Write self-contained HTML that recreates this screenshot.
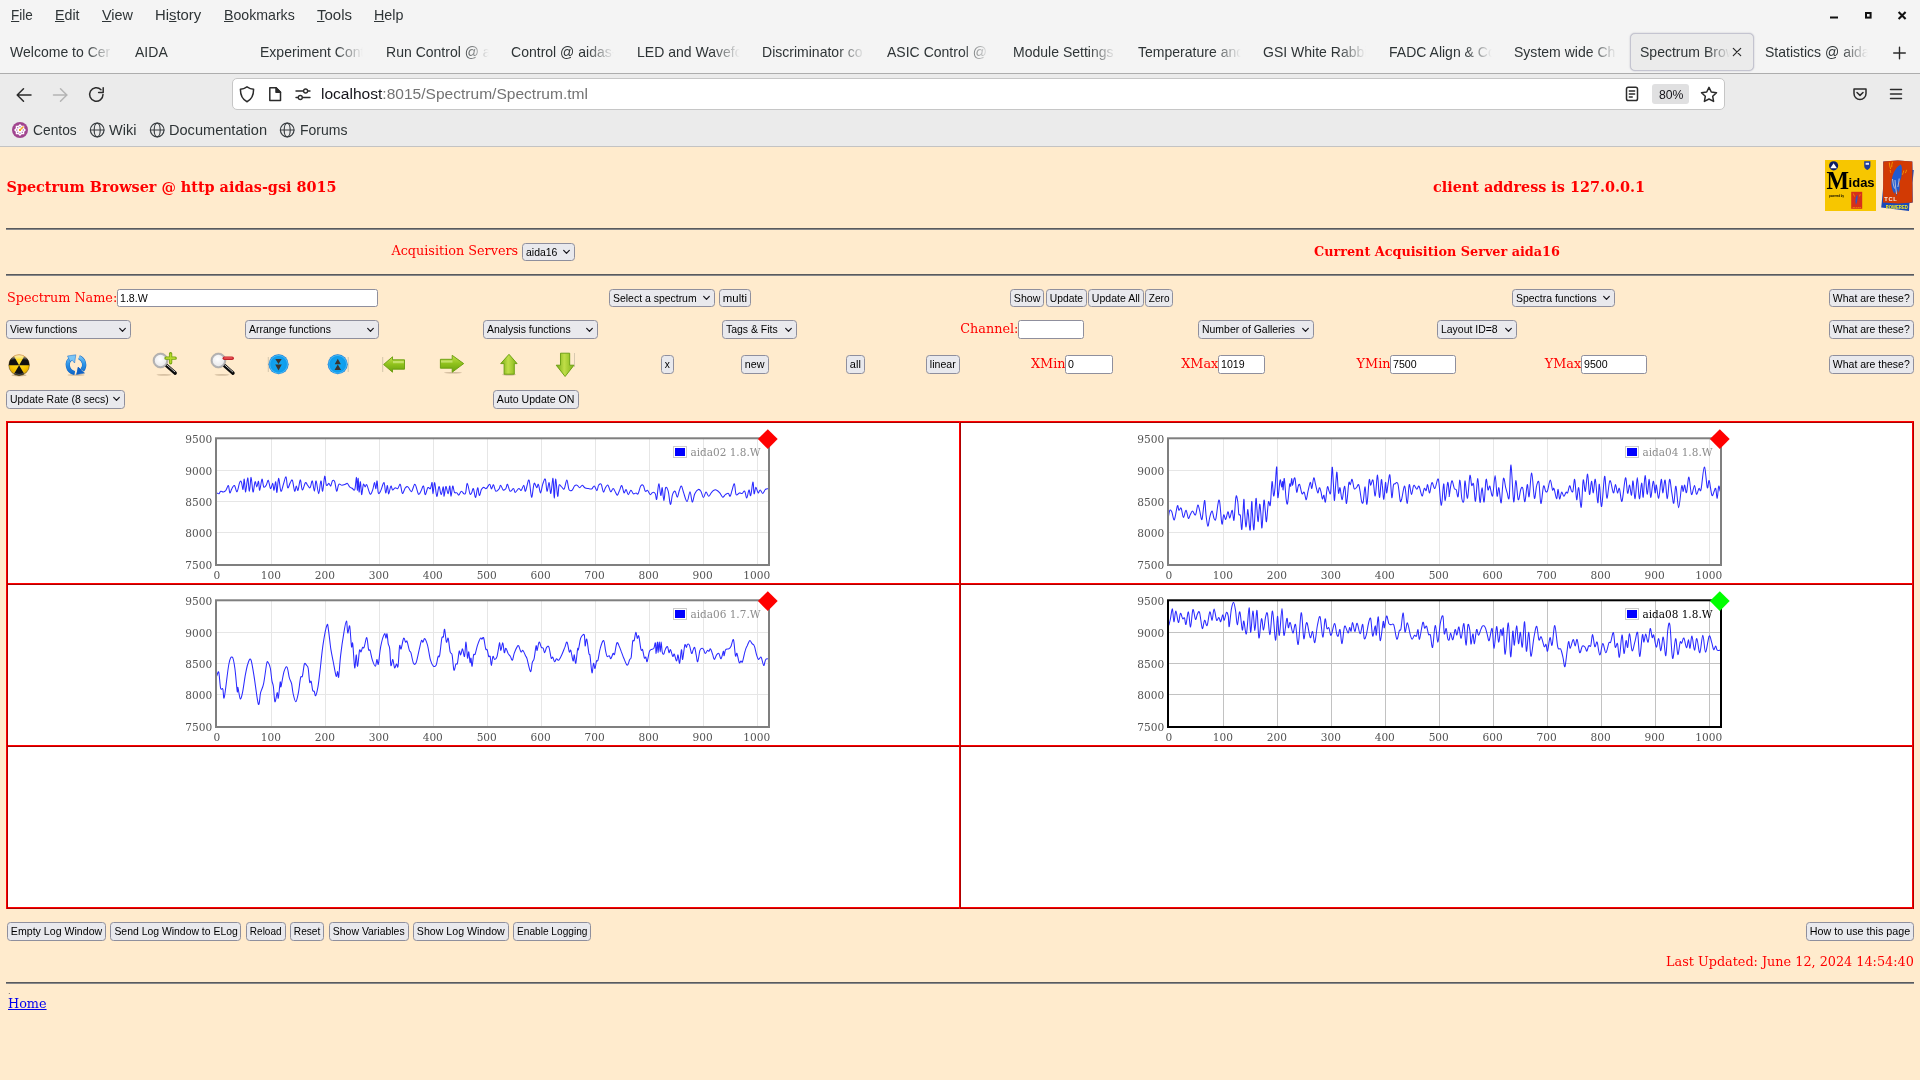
<!DOCTYPE html>
<html lang="en"><head><meta charset="utf-8"><title>Spectrum Browser</title>
<style>
*{box-sizing:border-box;margin:0;padding:0}
html,body{width:1920px;height:1080px;overflow:hidden;background:#ffebcd}
body{position:relative;font-family:"DejaVu Serif","Liberation Serif",serif;font-size:12.8px;color:#f00}
#w{position:absolute;left:0;top:0;width:1920px;height:1080px;will-change:transform}
.a{position:absolute;white-space:nowrap}
.ui{font-family:"Liberation Sans","DejaVu Sans",sans-serif}
.t{position:absolute;white-space:nowrap;display:block;transform-origin:0 50%;line-height:1}
/* chrome */
#top{left:0;top:0;width:1920px;height:73px;background:#f4f4f4}
#sep1{left:0;top:73px;width:1920px;height:1px;background:#adadad}
#nav{left:0;top:74px;width:1920px;height:72px;background:#ebebeb}
#sep2{left:0;top:146px;width:1920px;height:1px;background:#c3c3c3}
#url{left:232px;top:78px;width:1493px;height:32px;background:#fff;border:1px solid #c6c6c6;border-radius:5px}
#atab{left:1630px;top:33px;width:124px;height:38px;background:#ebebeb;border:1px solid #c4c4d0;border-radius:5px;box-shadow:0 0 1.5px rgba(90,90,120,.45)}
#zoomb{left:1652px;top:84px;width:37px;height:20px;background:#e0e0e1;border-radius:3px}
.menu{font-size:15px;color:#2e3436;top:7px;height:17px}
.tab{font-size:15px;color:#2e3436;top:44px;height:18px;overflow:hidden}
.bm{font-size:15px;color:#2e3436;top:122px;height:18px}
/* page controls */
.b,.s,.i{position:absolute;font-family:"Liberation Sans","DejaVu Sans",sans-serif;font-size:11px;color:#000;white-space:nowrap;border:1px solid #8f8f9d;border-radius:3.5px;line-height:1}
.b,.s{background:#e9e9ed}
.b{text-align:center}
.i{background:#fff;border-radius:2.5px}
.b span,.s span,.i span{position:absolute;left:0;right:0;top:50%;margin-top:-5.1px;display:block;transform:scaleX(.965)}
.s span{left:2.5px;right:auto;transform-origin:0 50%;transform:scaleX(.95)}
.i span{left:1.5px;right:auto;transform-origin:0 50%}
.s svg{position:absolute;right:4px;top:50%;margin-top:-3px}
.hr{position:absolute;left:6px;width:1908px;height:2px;background:linear-gradient(#595a5c 50%,#87888a 50%)}
.hd{font-weight:bold;font-size:14.4px}
.bd{font-weight:bold}
/* gallery */
#gal{left:8px;top:423px;width:1904px;height:484px;background:#fff}
.rl{position:absolute;background:#f00}
.rd{position:absolute;background:#ae0000}
.tk{position:absolute;font-size:10.6px;color:#545454;white-space:nowrap;line-height:1}
.lg{position:absolute;font-size:10.5px;white-space:nowrap;line-height:1}
.lb{position:absolute;width:14px;height:12px;border:1px solid #ccc;padding:1px;background:#fff}
.lb i{display:block;width:100%;height:100%;background:#00f}
.dm{position:absolute;width:13.6px;height:13.6px;transform:rotate(45deg)}
</style></head>
<body>
<div id="w">
<div class="a" id="top"></div><div class="a" id="sep1"></div><div class="a" id="nav"></div><div class="a" id="sep2"></div>
<span id="t1" class="t ui menu" style="left:11px;transform:scaleX(0.8992);"><u>F</u>ile</span>
<span id="t2" class="t ui menu" style="left:55px;transform:scaleX(0.9474);"><u>E</u>dit</span>
<span id="t3" class="t ui menu" style="left:101.75px;transform:scaleX(0.9612);"><u>V</u>iew</span>
<span id="t4" class="t ui menu" style="left:155.25px;transform:scaleX(0.9906);">Hi<u>s</u>tory</span>
<span id="t5" class="t ui menu" style="left:223.75px;transform:scaleX(0.9427);"><u>B</u>ookmarks</span>
<span id="t6" class="t ui menu" style="left:317px;transform:scaleX(0.9991);"><u>T</u>ools</span>
<span id="t7" class="t ui menu" style="left:374.25px;transform:scaleX(0.9555);"><u>H</u>elp</span>
<div class="a" id="atab"></div>
<span class="t ui tab" style="left:10px;width:105px;-webkit-mask-image:linear-gradient(90deg,#000 72%,transparent 98%);mask-image:linear-gradient(90deg,#000 72%,transparent 98%)"><span style="display:inline-block;transform:scaleX(.935);transform-origin:0 50%">Welcome to Cer</span></span>
<span class="t ui tab" style="left:135px;width:105px;-webkit-mask-image:linear-gradient(90deg,#000 72%,transparent 98%);mask-image:linear-gradient(90deg,#000 72%,transparent 98%)"><span style="display:inline-block;transform:scaleX(.935);transform-origin:0 50%">AIDA</span></span>
<span class="t ui tab" style="left:260px;width:105px;-webkit-mask-image:linear-gradient(90deg,#000 72%,transparent 98%);mask-image:linear-gradient(90deg,#000 72%,transparent 98%)"><span style="display:inline-block;transform:scaleX(.935);transform-origin:0 50%">Experiment Cont</span></span>
<span class="t ui tab" style="left:386px;width:105px;-webkit-mask-image:linear-gradient(90deg,#000 72%,transparent 98%);mask-image:linear-gradient(90deg,#000 72%,transparent 98%)"><span style="display:inline-block;transform:scaleX(.935);transform-origin:0 50%">Run Control @ a</span></span>
<span class="t ui tab" style="left:511px;width:105px;-webkit-mask-image:linear-gradient(90deg,#000 72%,transparent 98%);mask-image:linear-gradient(90deg,#000 72%,transparent 98%)"><span style="display:inline-block;transform:scaleX(.935);transform-origin:0 50%">Control @ aidas-</span></span>
<span class="t ui tab" style="left:637px;width:105px;-webkit-mask-image:linear-gradient(90deg,#000 72%,transparent 98%);mask-image:linear-gradient(90deg,#000 72%,transparent 98%)"><span style="display:inline-block;transform:scaleX(.935);transform-origin:0 50%">LED and Wavefo</span></span>
<span class="t ui tab" style="left:762px;width:105px;-webkit-mask-image:linear-gradient(90deg,#000 72%,transparent 98%);mask-image:linear-gradient(90deg,#000 72%,transparent 98%)"><span style="display:inline-block;transform:scaleX(.935);transform-origin:0 50%">Discriminator co</span></span>
<span class="t ui tab" style="left:887px;width:105px;-webkit-mask-image:linear-gradient(90deg,#000 72%,transparent 98%);mask-image:linear-gradient(90deg,#000 72%,transparent 98%)"><span style="display:inline-block;transform:scaleX(.935);transform-origin:0 50%">ASIC Control @</span></span>
<span class="t ui tab" style="left:1013px;width:105px;-webkit-mask-image:linear-gradient(90deg,#000 72%,transparent 98%);mask-image:linear-gradient(90deg,#000 72%,transparent 98%)"><span style="display:inline-block;transform:scaleX(.935);transform-origin:0 50%">Module Settings</span></span>
<span class="t ui tab" style="left:1138px;width:105px;-webkit-mask-image:linear-gradient(90deg,#000 72%,transparent 98%);mask-image:linear-gradient(90deg,#000 72%,transparent 98%)"><span style="display:inline-block;transform:scaleX(.935);transform-origin:0 50%">Temperature and</span></span>
<span class="t ui tab" style="left:1263px;width:105px;-webkit-mask-image:linear-gradient(90deg,#000 72%,transparent 98%);mask-image:linear-gradient(90deg,#000 72%,transparent 98%)"><span style="display:inline-block;transform:scaleX(.935);transform-origin:0 50%">GSI White Rabbi</span></span>
<span class="t ui tab" style="left:1389px;width:105px;-webkit-mask-image:linear-gradient(90deg,#000 72%,transparent 98%);mask-image:linear-gradient(90deg,#000 72%,transparent 98%)"><span style="display:inline-block;transform:scaleX(.935);transform-origin:0 50%">FADC Align &amp; Co</span></span>
<span class="t ui tab" style="left:1514px;width:105px;-webkit-mask-image:linear-gradient(90deg,#000 72%,transparent 98%);mask-image:linear-gradient(90deg,#000 72%,transparent 98%)"><span style="display:inline-block;transform:scaleX(.935);transform-origin:0 50%">System wide Ch</span></span>
<span class="t ui tab" style="left:1765px;width:105px;-webkit-mask-image:linear-gradient(90deg,#000 72%,transparent 98%);mask-image:linear-gradient(90deg,#000 72%,transparent 98%)"><span style="display:inline-block;transform:scaleX(.935);transform-origin:0 50%">Statistics @ aida</span></span>
<span class="t ui tab" style="left:1640px;width:92px;-webkit-mask-image:linear-gradient(90deg,#000 72%,transparent 98%);mask-image:linear-gradient(90deg,#000 72%,transparent 98%)"><span style="display:inline-block;transform:scaleX(.935);transform-origin:0 50%">Spectrum Brow</span></span>
<div class="a" id="url"></div><div class="a" id="zoomb"></div>
<span id="t8" class="t ui " style="left:321.25px;transform:scaleX(1.0029);font-size:15.5px;top:86px;height:18px;"><span style="color:#15141a">localhost</span><span style="color:#737373">:8015/Spectrum/Spectrum.tml</span></span>
<span id="t9" class="t ui " style="left:1658.5px;transform:scaleX(0.9412);font-size:13px;color:#15141a;top:88px;">80%</span>
<span id="t10" class="t ui bm" style="left:32.5px;transform:scaleX(0.9204);">Centos</span>
<span id="t11" class="t ui bm" style="left:109.25px;transform:scaleX(0.9708);">Wiki</span>
<span id="t12" class="t ui bm" style="left:169px;transform:scaleX(0.9712);">Documentation</span>
<span id="t13" class="t ui bm" style="left:299.5px;transform:scaleX(0.9342);">Forums</span>
<svg class="a" style="left:0;top:0" width="1920" height="147" viewBox="0 0 1920 147" fill="none" stroke-linecap="round" stroke-linejoin="round">
<g stroke="#2b2b2b" stroke-width="1.5">
<path d="M31 95H17.5M23.5 88.7L17.2 95l6.3 6.3"/>
<path d="M103 94.5a6.7 6.7 0 1 1-2-4.8M103.2 87.8v4.6h-4.6" />
<path d="M247 86.8c2.2 1.5 4.3 2.3 6.6 2.5 0 6.500-2.200 10.300-6.600 12.400-4.400-2.100-6.600-5.900-6.600-12.400 2.300-.2 4.400-1 6.600-2.500z"/>
<path d="M269.800 87.800h6.200l4.500 4.500v8.200h-10.700z"/><path d="M276 87.800v4.500h4.500z" fill="#2b2b2b"/>
<path d="M296 91h7.500M307.800 91h2.200M296 97.500h2.200M302.500 97.500h7.500" stroke-width="1.4"/><circle cx="305.600" cy="91" r="2" stroke-width="1.300"/><circle cx="300.300" cy="97.500" r="2" stroke-width="1.300"/>
<rect x="1626.500" y="87.300" width="11" height="13.200" rx="1.800"/><path d="M1629.300 91h5.400M1629.300 94h5.400M1629.300 97h3" stroke-width="1.300"/>
<path d="M1709 87.300l2.300 4.700 5.200.7-3.800 3.600.9 5.100-4.600-2.400-4.600 2.400.9-5.100-3.800-3.600 5.200-.7z"/>
<path d="M1854 89h12v4.500a6 6 0 0 1-12 0z"/><path d="M1857 92.500l3 2.900 3-2.900"/>
<path d="M1890.500 89.500h11M1890.500 94h11M1890.500 98.500h11"/>
<path d="M1733.300 48.300l7.400 7.400M1740.700 48.300l-7.400 7.400" stroke-width="1.200"/>
<path d="M1899.500 47.200v11.600M1893.700 53h11.600" stroke-width="1.400"/>
</g>
<path d="M67 95H53.500M60.500 88.700L66.800 95l-6.300 6.300" stroke="#b4b4b4" stroke-width="1.500"/>
<g stroke="#111" stroke-width="2" stroke-linecap="butt" stroke-linejoin="miter">
<path d="M1830 17.500h8"/><rect x="1866" y="13" width="4.600" height="4.600"/><path d="M1898.600 11.900l7 7M1905.600 11.900l-7 7" stroke-width="2.100"/>
</g>
<g stroke="#3a3f42" stroke-width="1.200">
<circle cx="97.200" cy="130" r="6.800"/><ellipse cx="97.200" cy="130" rx="3" ry="6.800"/><path d="M90.400 130h13.600"/>
<circle cx="157.200" cy="130" r="6.800"/><ellipse cx="157.200" cy="130" rx="3" ry="6.800"/><path d="M150.400 130h13.600"/>
<circle cx="287.200" cy="130" r="6.800"/><ellipse cx="287.200" cy="130" rx="3" ry="6.800"/><path d="M280.400 130h13.600"/>
</g>
<circle cx="20" cy="130" r="8" fill="#a1458f" stroke="none"/>
<path d="M20.00 124.00L21.76 125.75L24.24 125.76L24.25 128.24L26.00 130.00L24.25 131.76L24.24 134.24L21.76 134.25L20.00 136.00L18.24 134.25L15.76 134.24L15.75 131.76L14.00 130.00L15.75 128.24L15.76 125.76L18.24 125.75z" fill="#fff" stroke="none"/>
<rect x="19.35" y="126.05" width="1.300" height="1.300" fill="#b274b4" stroke="none"/><rect x="21.68" y="127.02" width="1.300" height="1.300" fill="#b274b4" stroke="none"/><rect x="22.65" y="129.35" width="1.300" height="1.300" fill="#b274b4" stroke="none"/><rect x="21.68" y="131.68" width="1.300" height="1.300" fill="#b274b4" stroke="none"/><rect x="19.35" y="132.65" width="1.300" height="1.300" fill="#b274b4" stroke="none"/><rect x="17.02" y="131.68" width="1.300" height="1.300" fill="#b274b4" stroke="none"/><rect x="16.05" y="129.35" width="1.300" height="1.300" fill="#b274b4" stroke="none"/><rect x="17.02" y="127.02" width="1.300" height="1.300" fill="#b274b4" stroke="none"/>
<path d="M20.300 129.700l3.200-3.200" stroke="#f5a623" stroke-width="1.300" stroke-linecap="butt"/>
<rect x="19" y="129" width="2" height="2" fill="#f5a623" stroke="none"/>
</svg>
<span class="a hd" style="left:6.5px;top:179.74px;line-height:1;font-size:14.4px;">Spectrum Browser @ http aidas-gsi 8015</span>
<span class="a hd" style="left:1433px;top:179.74px;line-height:1;font-size:14.4px;">client address is 127.0.0.1</span>
<div class="hr" style="top:228px"></div><div class="hr" style="top:274px"></div><div class="hr" style="top:982px"></div>
<span class="a " style="left:391.4px;top:245.10px;line-height:1;font-size:12.8px;">Acquisition Servers</span>
<span class="a bd" style="left:1314px;top:245.60px;line-height:1;font-size:12.8px;">Current Acquisition Server aida16</span>
<svg class="a" style="left:1825px;top:160px" width="51" height="51" viewBox="0 0 51 51">
<rect width="51" height="51" fill="#f7c600"/>
<circle cx="8.600" cy="5.800" r="4.600" fill="#0d1f66"/><path d="M5.300 8.200L8.600 3.300l3.300 4.900z" fill="#fff"/>
<path d="M39.200 1.300h6.200v4.400c0 2-1.200 3.400-3.100 4.300-1.900-.9-3.100-2.300-3.100-4.300z" fill="#1d3b9c"/><path d="M40.600 2.800h3.400v2h-3.400z" fill="#e8ecf8"/>
<text fill="#000" font-weight="bold"><tspan x="1.600" y="28.600" font-family="'Liberation Serif','DejaVu Serif',serif" font-size="26" textLength="22.500" lengthAdjust="spacingAndGlyphs">M</tspan><tspan x="23.600" y="27" font-family="'Liberation Sans','DejaVu Sans',sans-serif" font-size="12.500" textLength="26" lengthAdjust="spacingAndGlyphs">idas</tspan></text>
<text x="4" y="37" font-family="'Liberation Sans','DejaVu Sans',sans-serif" font-weight="bold" font-size="3.400" fill="#000" textLength="15" lengthAdjust="spacingAndGlyphs">powered by</text>
<rect x="26.200" y="31.800" width="11" height="17" fill="#d7301a"/>
<path d="M32.500 34.500c-2 2.500-2.600 6-1.600 10.500 1.300-3 1.900-6.500 1.600-10.500z" fill="#2a57c4"/>
<path d="M28.300 33.500l1.200 3M35.300 34.200l-.8 2.200" stroke="#f5b400" stroke-width=".6"/>
<text x="27.200" y="47.500" font-family="'Liberation Sans',sans-serif" font-weight="bold" font-size="2.400" fill="#f4a000" textLength="9" lengthAdjust="spacingAndGlyphs">Tcl/Tk</text>
</svg>
<svg class="a" style="left:1881px;top:160px" width="33" height="51" viewBox="0 0 33 51">
<path d="M.800 42l1.600-17.500L2.200 1.500 17 .4l14.300 1 .3 8.500 1.200.2-1.300 13 .3 19.500-3.400.7-.4 7.600L.2 47.600z" fill="#1a49b8"/>
<path d="M2.300 1.500L16.500.5l14.800 1 .2 41-14.500.9L2 42.500z" fill="#d23a04"/>
<path d="M19.800 4.500c-4.500 2-8.300 9-9.300 16.500-.5 4 .3 9.500 3 13l.5-3c.6 1.500 1.200 3.500 1.400 5 .9-2.500 1.100-5 .9-7 .8 1.300 1.300 2.500 1.500 3.800 1.300-3.800 1.100-7.300.3-10.300 2-3 3-7 2.600-11.500.6-2.300.2-4.800-.9-6.500z" fill="#1f5ad0"/>
<path d="M14 20c.3 5 .8 9.500 1.600 14M11.500 19c.3 3.500 1 6.500 2 9.500M18.200 18.500c-.3 3-.7 6-1.300 8.500" stroke="#f6e8d8" stroke-width=".7" fill="none"/>
<path d="M8.300 2.500c.2 2.500.6 4.500 1.300 6.500M11.500 1.800c-.6 1.800-.9 3.600-.8 5.500M22.800 10.500c-.3 1.500-.8 3-1.600 4.300M25.500 9.800c-.2 1.200-.6 2.300-1.200 3.300M9.200 10c.1 1 .3 2 .6 2.800" stroke="#f5a400" stroke-width=".8" fill="none"/>
<text x="3.300" y="41" font-family="'Liberation Sans','DejaVu Sans',sans-serif" font-weight="bold" font-size="5.600" fill="#f8efe6" textLength="13" lengthAdjust="spacingAndGlyphs" letter-spacing=".6">TCL</text>
<text x="4.800" y="48.700" font-family="'Liberation Sans','DejaVu Sans',sans-serif" font-weight="bold" font-size="5.300" fill="#fff01a" textLength="22" lengthAdjust="spacingAndGlyphs">POWERED</text>
</svg>
<div class="s" style="left:522.2px;top:243px;width:52.6px;height:18px"><span>aida16</span><svg width="7" height="6" viewBox="0 0 7 6"><path d="M.7 1.400L3.500 4.300 6.300 1.400" fill="none" stroke="#15141a" stroke-width="1.200" stroke-linecap="round" stroke-linejoin="round"/></svg></div>
<span class="a " style="left:7px;top:292.40px;line-height:1;font-size:12.8px;">Spectrum Name:</span>
<div class="i" style="left:117px;top:289px;width:261px;height:18px"><span>1.8.W</span></div>
<div class="s" style="left:609.3px;top:289px;width:105.4px;height:18px"><span>Select a spectrum</span><svg width="7" height="6" viewBox="0 0 7 6"><path d="M.7 1.400L3.500 4.300 6.300 1.400" fill="none" stroke="#15141a" stroke-width="1.200" stroke-linecap="round" stroke-linejoin="round"/></svg></div>
<div class="b" style="left:719px;top:289px;width:31.8px;height:18px"><span style="transform:scaleX(1.0373)"><b id="t14" style="font-weight:normal">multi</b></span></div>
<div class="b" style="left:1010.2px;top:289px;width:34.3px;height:18px"><span style="transform:scaleX(0.9662)"><b id="t15" style="font-weight:normal">Show</b></span></div>
<div class="b" style="left:1045.8px;top:289px;width:40.9px;height:18px"><span style="transform:scaleX(0.9356)"><b id="t16" style="font-weight:normal">Update</b></span></div>
<div class="b" style="left:1087.8px;top:289px;width:55.8px;height:18px"><span style="transform:scaleX(0.9590)"><b id="t17" style="font-weight:normal">Update All</b></span></div>
<div class="b" style="left:1144.7px;top:289px;width:28.4px;height:18px"><span style="transform:scaleX(0.9149)"><b id="t18" style="font-weight:normal">Zero</b></span></div>
<div class="s" style="left:1512.2px;top:289px;width:103.3px;height:18px"><span>Spectra functions</span><svg width="7" height="6" viewBox="0 0 7 6"><path d="M.7 1.400L3.500 4.300 6.300 1.400" fill="none" stroke="#15141a" stroke-width="1.200" stroke-linecap="round" stroke-linejoin="round"/></svg></div>
<div class="b" style="left:1829.4px;top:289px;width:84.6px;height:18px"><span style="transform:scaleX(0.9527)"><b id="t19" style="font-weight:normal">What are these?</b></span></div>
<div class="s" style="left:6px;top:320px;width:125px;height:19px"><span>View functions</span><svg width="7" height="6" viewBox="0 0 7 6"><path d="M.7 1.400L3.500 4.300 6.300 1.400" fill="none" stroke="#15141a" stroke-width="1.200" stroke-linecap="round" stroke-linejoin="round"/></svg></div>
<div class="s" style="left:245px;top:320px;width:133.5px;height:19px"><span>Arrange functions</span><svg width="7" height="6" viewBox="0 0 7 6"><path d="M.7 1.400L3.500 4.300 6.300 1.400" fill="none" stroke="#15141a" stroke-width="1.200" stroke-linecap="round" stroke-linejoin="round"/></svg></div>
<div class="s" style="left:483.3px;top:320px;width:114.4px;height:19px"><span>Analysis functions</span><svg width="7" height="6" viewBox="0 0 7 6"><path d="M.7 1.400L3.500 4.300 6.300 1.400" fill="none" stroke="#15141a" stroke-width="1.200" stroke-linecap="round" stroke-linejoin="round"/></svg></div>
<div class="s" style="left:722.4px;top:320px;width:74.4px;height:19px"><span>Tags &amp; Fits</span><svg width="7" height="6" viewBox="0 0 7 6"><path d="M.7 1.400L3.500 4.300 6.300 1.400" fill="none" stroke="#15141a" stroke-width="1.200" stroke-linecap="round" stroke-linejoin="round"/></svg></div>
<span class="a " style="left:960.3px;top:323.40px;line-height:1;font-size:12.8px;">Channel:</span>
<div class="i" style="left:1018.3px;top:320px;width:65.6px;height:19px"><span></span></div>
<div class="s" style="left:1198.3px;top:320px;width:115.5px;height:19px"><span>Number of Galleries</span><svg width="7" height="6" viewBox="0 0 7 6"><path d="M.7 1.400L3.500 4.300 6.300 1.400" fill="none" stroke="#15141a" stroke-width="1.200" stroke-linecap="round" stroke-linejoin="round"/></svg></div>
<div class="s" style="left:1437.3px;top:320px;width:79.4px;height:19px"><span>Layout ID=8</span><svg width="7" height="6" viewBox="0 0 7 6"><path d="M.7 1.400L3.500 4.300 6.300 1.400" fill="none" stroke="#15141a" stroke-width="1.200" stroke-linecap="round" stroke-linejoin="round"/></svg></div>
<div class="b" style="left:1829.4px;top:320px;width:84.6px;height:19px"><span style="transform:scaleX(0.9527)"><b id="t20" style="font-weight:normal">What are these?</b></span></div>
<div class="b" style="left:661px;top:355px;width:12.8px;height:19px"><span style="transform:scaleX(0.9273)"><b id="t21" style="font-weight:normal">x</b></span></div>
<div class="b" style="left:741.4px;top:355px;width:27.4px;height:19px"><span style="transform:scaleX(0.9759)"><b id="t22" style="font-weight:normal">new</b></span></div>
<div class="b" style="left:846.3px;top:355px;width:18.7px;height:19px"><span style="transform:scaleX(0.9986)"><b id="t23" style="font-weight:normal">all</b></span></div>
<div class="b" style="left:926.3px;top:355px;width:33.5px;height:19px"><span style="transform:scaleX(0.9589)"><b id="t24" style="font-weight:normal">linear</b></span></div>
<span class="a " style="left:1031px;top:358.40px;line-height:1;font-size:12.8px;">XMin</span>
<div class="i" style="left:1065.3px;top:355px;width:47.7px;height:19px"><span>0</span></div>
<span class="a " style="left:1181.2px;top:358.40px;line-height:1;font-size:12.8px;">XMax</span>
<div class="i" style="left:1218.4px;top:355px;width:46.6px;height:19px"><span>1019</span></div>
<span class="a " style="left:1356.6px;top:358.40px;line-height:1;font-size:12.8px;">YMin</span>
<div class="i" style="left:1390.2px;top:355px;width:65.5px;height:19px"><span>7500</span></div>
<span class="a " style="left:1544.8px;top:358.40px;line-height:1;font-size:12.8px;">YMax</span>
<div class="i" style="left:1581px;top:355px;width:66px;height:19px"><span>9500</span></div>
<div class="b" style="left:1829.4px;top:355px;width:84.6px;height:19px"><span style="transform:scaleX(0.9527)"><b id="t25" style="font-weight:normal">What are these?</b></span></div>
<div class="s" style="left:6px;top:390px;width:119.4px;height:18.6px"><span>Update Rate (8 secs)</span><svg width="7" height="6" viewBox="0 0 7 6"><path d="M.7 1.400L3.500 4.300 6.300 1.400" fill="none" stroke="#15141a" stroke-width="1.200" stroke-linecap="round" stroke-linejoin="round"/></svg></div>
<div class="b" style="left:493.3px;top:390px;width:85.3px;height:18.6px"><span style="transform:scaleX(0.9614)"><b id="t26" style="font-weight:normal">Auto Update ON</b></span></div>
<svg class="a" style="left:0;top:345px" width="600" height="40" viewBox="0 345 600 40">
<defs>
<radialGradient id="gy" cx=".5" cy=".3" r=".75"><stop offset="0" stop-color="#ffe23a"/><stop offset=".6" stop-color="#f7c600"/><stop offset="1" stop-color="#d99a00"/></radialGradient>
<linearGradient id="gb" gradientUnits="userSpaceOnUse" x1="0" y1="354" x2="0" y2="376"><stop offset="0" stop-color="#8fd2f9"/><stop offset=".45" stop-color="#2e96e8"/><stop offset="1" stop-color="#0a5cc0"/></linearGradient>
<radialGradient id="gc" cx=".5" cy=".5" r=".5"><stop offset="0" stop-color="#12a8f2"/><stop offset=".78" stop-color="#0f9cec"/><stop offset=".88" stop-color="#45b8f5"/><stop offset="1" stop-color="#0a6ed0"/></radialGradient>
<linearGradient id="gg" x1="0" y1="0" x2="0" y2="1"><stop offset="0" stop-color="#c4e04a"/><stop offset=".5" stop-color="#8fc11c"/><stop offset="1" stop-color="#69a010"/></linearGradient>
<linearGradient id="gh" x1="0" y1="0" x2="1" y2="0"><stop offset="0" stop-color="#74a912"/><stop offset=".45" stop-color="#c0de48"/><stop offset="1" stop-color="#7fb216"/></linearGradient>
<radialGradient id="gl" cx=".45" cy=".4" r=".6"><stop offset="0" stop-color="#ffffff"/><stop offset="1" stop-color="#e6e6e8"/></radialGradient>
<linearGradient id="gs" x1="0" y1="0" x2="0" y2="1"><stop offset="0" stop-color="#fff" stop-opacity=".75"/><stop offset="1" stop-color="#fff" stop-opacity="0"/></linearGradient>
</defs>
<!-- radiation -->
<ellipse cx="19" cy="375.300" rx="7.500" ry="1.100" fill="#5a4020" opacity=".3"/>
<circle cx="19.1" cy="365.2" r="10.3" fill="url(#gy)"/>
<path d="M19.10 365.20L8.80 365.20A10.30 10.30 0 0 1 13.95 356.28zM19.10 365.20L24.25 356.28A10.30 10.30 0 0 1 29.40 365.20zM19.10 365.20L24.25 374.12A10.30 10.30 0 0 1 13.95 374.12z" fill="#111"/>
<circle cx="19.1" cy="365.2" r="10.3" fill="none" stroke="#2b2208" stroke-width=".6" opacity=".7"/>
<path d="M10.300 360.500a9.600 9.600 0 0 1 17.600 0a16 10 0 0 0-17.600 0z" fill="url(#gs)"/>
<path d="M12.500 357.300a9.800 9.800 0 0 1 13.200 0" fill="none" stroke="#f3a030" stroke-width=".7" opacity=".9"/>
<path d="M13.500 372.500a9 9 0 0 0 11.200 0" fill="none" stroke="#999" stroke-width=".8" opacity=".6"/>
<!-- refresh -->
<ellipse cx="76" cy="375" rx="8.500" ry="1" fill="#5a4020" opacity=".22"/>
<path d="M74.58 372.98A8.20 8.20 0 0 1 71.65 357.95" fill="none" stroke="#1567c4" stroke-width="4.200"/><path d="M74.58 372.98A8.20 8.20 0 0 1 71.65 357.95" fill="none" stroke="url(#gb)" stroke-width="3.300"/>
<path d="M67.500 356l8.300-1.200-1.200 8.200-2.300-2.700-2.200 1.200z" fill="#7cc6f6" stroke="#1567c4" stroke-width=".5" stroke-linejoin="round"/>
<path d="M79.07 357.30A8.20 8.20 0 0 1 82.28 370.17" fill="none" stroke="#1567c4" stroke-width="4.200"/><path d="M79.07 357.30A8.20 8.20 0 0 1 82.28 370.17" fill="none" stroke="url(#gb)" stroke-width="3.300"/>
<path d="M78 367.200l6.500 5.900-8 1.400 1.200-3.200z" fill="#0f62c8" stroke="#0d56b0" stroke-width=".5" stroke-linejoin="round"/>
<path d="M76.400 374.300l1.700-7.300 3.500 2.800" fill="#0f62c8"/>
<!-- zoom in -->
<ellipse cx="164" cy="374.800" rx="7.500" ry=".9" fill="#5a4020" opacity=".25"/>
<path d="M166.400 365.400l8.800 7.700" stroke="#0a0a0a" stroke-width="3.400" stroke-linecap="round"/>
<path d="M167.200 365.200l7.600 6.600" stroke="#ddd" stroke-width=".9" stroke-linecap="round"/>
<circle cx="160.500" cy="360.500" r="6.600" fill="url(#gl)" stroke="#b4b4b6" stroke-width="1.800"/>
<circle cx="160.500" cy="360.500" r="7.500" fill="none" stroke="#8e8e90" stroke-width=".4"/>
<path d="M170.600 353.600v9.200M166 358.200h9.200" stroke="#739f10" stroke-width="3.300" stroke-linecap="round"/>
<path d="M170.600 354v8.400M166.400 358.200h8.400" stroke="#b5d92c" stroke-width="1.700" stroke-linecap="round"/>
<!-- zoom out -->
<ellipse cx="222" cy="374.800" rx="7.500" ry=".9" fill="#5a4020" opacity=".25"/>
<path d="M224.200 365.400l8.800 7.700" stroke="#0a0a0a" stroke-width="3.400" stroke-linecap="round"/>
<path d="M225 365.200l7.600 6.600" stroke="#ddd" stroke-width=".9" stroke-linecap="round"/>
<circle cx="218.400" cy="360.500" r="6.600" fill="url(#gl)" stroke="#b4b4b6" stroke-width="1.800"/>
<circle cx="218.400" cy="360.500" r="7.500" fill="none" stroke="#8e8e90" stroke-width=".4"/>
<path d="M224.300 358.200h7.900" stroke="#c2252b" stroke-width="3.500" stroke-linecap="round"/>
<path d="M224.600 358h7.300" stroke="#ee5358" stroke-width="1.500" stroke-linecap="round"/>
<!-- blue down -->
<path d="M268.300 357v15" stroke="#776" stroke-width=".7" opacity=".45"/>
<circle cx="278.600" cy="364.300" r="10" fill="url(#gc)"/>
<path d="M275.300 359h6.400l-3.200 5zM275.200 364.600h6.600l-3.300 6z" fill="#3a3430"/>
<!-- blue up -->
<path d="M348.200 357v15" stroke="#776" stroke-width=".7" opacity=".45"/>
<circle cx="337.700" cy="364.300" r="10" fill="url(#gc)"/>
<path d="M334.700 364.300h6.200l-3.100-5.600zM334.500 370h6.600l-3.300-5.600z" fill="#3a3430"/>
<!-- left arrow -->
<path d="M382.700 357v15" stroke="#776" stroke-width=".7" opacity=".45"/>
<path d="M383.600 364.500l8.900-7.700v3h12v9.400h-12v3z" fill="url(#gg)" stroke="#679c0c" stroke-width=".9" stroke-linejoin="round"/>
<path d="M393 361h10.800v2.200h-10.800z" fill="#e2f29a" opacity=".55"/>
<!-- right arrow -->
<ellipse cx="453" cy="372.800" rx="9" ry=".8" fill="#5a4020" opacity=".3"/>
<path d="M463.700 363.600l-11.500-8.300v4h-11.800v8.900h11.800v4z" fill="url(#gg)" stroke="#679c0c" stroke-width=".9" stroke-linejoin="round"/>
<path d="M441 360.400h11.500v2.200h-11.500z" fill="#e2f29a" opacity=".55"/>
<!-- up arrow -->
<ellipse cx="509" cy="374.800" rx="7" ry=".8" fill="#5a4020" opacity=".35"/>
<path d="M509 354.300l8.100 9.300h-2.800v10.600h-10.200v-10.600h-3.400z" fill="url(#gh)" stroke="#679c0c" stroke-width=".9" stroke-linejoin="round"/>
<!-- down arrow -->
<path d="M574.600 353v14" stroke="#776" stroke-width=".7" opacity=".45"/>
<path d="M565.100 376.500l-8.900-11.300h4.300v-12h9.200v12h4.300z" fill="url(#gh)" stroke="#679c0c" stroke-width=".9" stroke-linejoin="round"/>
</svg>
<div class="a" id="gal"></div>
<div class="rl" style="left:6px;top:421px;width:1908px;height:1px"></div><div class="rd" style="left:6px;top:422px;width:1908px;height:1px"></div>
<div class="rl" style="left:6px;top:583px;width:1908px;height:1px"></div><div class="rd" style="left:6px;top:584px;width:1908px;height:1px"></div>
<div class="rl" style="left:6px;top:745px;width:1908px;height:1px"></div><div class="rd" style="left:6px;top:746px;width:1908px;height:1px"></div>
<div class="rl" style="left:6px;top:907px;width:1908px;height:1px"></div><div class="rd" style="left:6px;top:908px;width:1908px;height:1px"></div>
<div class="rl" style="left:6px;top:421px;width:1px;height:488px"></div><div class="rd" style="left:7px;top:422px;width:1px;height:487px"></div>
<div class="rl" style="left:959px;top:421px;width:1px;height:488px"></div><div class="rd" style="left:960px;top:422px;width:1px;height:487px"></div>
<div class="rl" style="left:1912px;top:421px;width:1px;height:488px"></div><div class="rd" style="left:1913px;top:422px;width:1px;height:487px"></div>
<svg class="a" style="left:176px;top:426px" width="640" height="150" viewBox="176 426 640 150" fill="none">
<path d="M271.50 438.30V565.00M325.50 438.30V565.00M379.50 438.30V565.00M433.50 438.30V565.00M487.50 438.30V565.00M541.50 438.30V565.00M595.50 438.30V565.00M649.50 438.30V565.00M703.50 438.30V565.00M757.50 438.30V565.00M216.00 532.50H769.00M216.00 501.50H769.00M216.00 470.50H769.00" stroke="#e6e6e6" stroke-width="1"/>
<path d="M216.8 492.9C217.1 493.0 218.3 494.0 219.0 493.8C219.6 493.5 220.0 491.5 220.7 491.2C221.4 490.9 222.4 492.2 223.3 492.0C224.1 491.9 225.0 491.4 225.9 490.3C226.7 489.2 227.8 485.1 228.4 485.5C229.1 485.9 229.2 492.4 229.8 492.9C230.4 493.4 231.1 489.8 231.9 488.6C232.6 487.4 233.6 485.0 234.5 485.5C235.3 486.0 236.2 492.2 237.0 491.7C237.9 491.2 238.9 484.2 239.6 482.6C240.3 480.9 240.8 480.6 241.3 481.7C241.9 482.9 242.6 489.9 243.0 489.5C243.5 489.0 243.8 478.7 244.2 479.1C244.7 479.6 245.1 492.2 245.6 492.0C246.2 491.8 247.1 478.1 247.7 477.9C248.3 477.8 248.8 491.3 249.4 491.2C250.0 491.1 250.5 477.3 251.1 477.4C251.7 477.6 252.4 491.3 253.0 492.0C253.7 492.7 254.4 482.6 255.1 481.7C255.7 480.9 256.2 486.9 256.8 486.9C257.4 486.8 258.0 480.8 258.5 481.4C259.0 481.9 259.1 490.7 259.7 490.3C260.3 489.9 261.3 479.7 262.0 479.1C262.6 478.6 263.0 485.9 263.7 486.9C264.4 487.9 265.5 486.2 266.2 485.2C267.0 484.1 267.6 479.8 268.3 480.3C269.0 480.9 269.8 488.1 270.5 488.6C271.3 489.1 272.2 483.2 272.8 483.4C273.4 483.7 273.5 490.6 274.0 490.3C274.5 490.0 275.2 481.4 275.7 481.7C276.2 482.1 276.4 492.9 276.9 492.4C277.4 491.8 278.0 478.5 278.6 478.3C279.3 478.1 280.1 490.2 280.9 491.2C281.7 492.2 282.6 486.7 283.4 484.3C284.3 481.9 285.3 476.3 286.0 476.9C286.7 477.5 287.0 486.8 287.7 487.7C288.5 488.7 289.5 483.8 290.3 482.6C291.1 481.3 291.7 478.9 292.4 480.3C293.1 481.8 294.0 490.2 294.6 491.2C295.3 492.1 295.8 486.2 296.3 486.0C296.9 485.9 297.4 491.4 298.0 490.3C298.7 489.3 299.6 479.7 300.3 479.7C301.0 479.6 301.5 489.5 302.3 490.0C303.2 490.5 304.6 483.4 305.4 482.6C306.3 481.8 306.7 484.3 307.5 485.2C308.3 486.0 309.3 488.5 310.1 487.7C310.9 487.0 311.6 480.3 312.3 480.9C313.0 481.4 313.7 491.2 314.4 491.2C315.0 491.2 315.4 480.4 316.1 480.9C316.8 481.3 317.9 493.8 318.7 493.8C319.5 493.8 320.2 481.3 320.9 480.9C321.6 480.4 322.0 491.9 322.6 491.2C323.3 490.4 324.1 477.2 324.7 476.2C325.3 475.2 325.7 484.0 326.4 485.2C327.1 486.4 328.3 483.3 329.0 483.4C329.7 483.6 330.1 486.4 330.7 486.0C331.3 485.6 331.8 481.6 332.4 480.9C333.1 480.1 333.9 480.0 334.7 481.7C335.4 483.4 336.0 490.7 336.7 491.2C337.4 491.6 337.9 485.3 338.8 484.3C339.6 483.3 340.8 485.2 341.9 485.2C343.0 485.2 344.4 484.6 345.3 484.3C346.2 484.0 346.7 483.0 347.4 483.4C348.1 483.9 348.8 486.1 349.6 486.9C350.4 487.7 351.3 487.8 352.2 488.2C353.0 488.7 354.0 491.3 354.8 489.5C355.5 487.6 356.1 477.3 356.5 477.4C356.9 477.6 357.1 490.2 357.3 490.3C357.6 490.5 357.9 478.0 358.2 478.3C358.5 478.6 358.7 491.5 359.1 492.0C359.4 492.6 360.0 481.3 360.4 481.7C360.9 482.1 361.2 494.2 361.6 494.6C362.1 495.0 362.8 485.6 363.4 484.3C363.9 483.0 364.5 486.8 365.1 486.9C365.7 487.0 365.9 483.6 366.8 484.8C367.7 486.0 369.2 493.3 370.2 494.1C371.2 494.9 372.1 491.4 372.8 489.5C373.5 487.5 374.0 482.7 374.5 482.6C375.0 482.4 375.5 488.9 375.9 488.6C376.3 488.3 376.7 480.1 377.1 480.9C377.5 481.6 377.7 491.2 378.3 492.9C378.9 494.6 379.6 492.9 380.5 491.2C381.5 489.5 383.1 482.3 384.0 482.6C384.8 482.9 385.1 492.4 385.7 492.9C386.3 493.4 386.9 485.3 387.4 485.5C387.9 485.7 388.1 494.0 388.6 494.1C389.2 494.2 390.2 486.7 390.9 486.0C391.5 485.3 391.9 489.7 392.6 490.0C393.3 490.3 394.3 488.0 395.2 487.7C396.0 487.5 396.9 489.2 397.7 488.6C398.6 488.0 399.5 483.5 400.3 484.3C401.1 485.1 401.5 492.8 402.4 493.4C403.2 494.0 404.5 488.8 405.5 487.7C406.4 486.6 407.0 486.2 408.0 486.9C409.0 487.5 410.3 492.1 411.5 491.7C412.6 491.3 413.8 483.9 414.9 484.3C416.1 484.7 417.4 492.9 418.4 494.1C419.4 495.2 420.1 492.5 420.9 491.2C421.8 489.8 422.8 485.4 423.5 486.0C424.2 486.6 424.5 494.3 425.2 494.6C426.0 494.9 427.0 488.7 427.8 487.7C428.7 486.7 429.7 489.5 430.4 488.6C431.1 487.7 431.7 481.7 432.1 482.6C432.5 483.4 432.5 493.8 433.0 493.8C433.4 493.8 434.1 482.1 434.7 482.6C435.3 483.0 436.0 495.7 436.8 496.3C437.5 497.0 438.2 486.8 439.0 486.5C439.7 486.2 440.5 494.6 441.2 494.6C441.9 494.7 442.8 486.6 443.3 486.9C443.8 487.2 443.7 496.4 444.1 496.3C444.6 496.3 445.2 487.0 445.9 486.5C446.5 486.1 447.4 493.8 448.1 493.8C448.8 493.7 449.3 485.6 449.8 486.0C450.3 486.4 450.5 496.3 451.0 496.3C451.5 496.3 452.2 486.7 452.7 486.0C453.3 485.4 453.7 491.2 454.5 492.4C455.2 493.5 456.3 492.4 457.0 492.9C457.7 493.3 458.0 495.4 458.8 495.1C459.5 494.8 460.5 491.4 461.3 491.2C462.2 490.9 463.2 493.5 463.9 493.8C464.6 494.0 465.1 494.6 465.6 492.9C466.2 491.2 466.6 483.3 467.3 483.4C468.1 483.6 469.2 492.2 469.9 493.8C470.6 495.3 471.1 493.8 471.6 492.9C472.2 492.0 472.7 487.8 473.4 488.6C474.0 489.4 474.9 497.7 475.6 497.5C476.3 497.4 477.0 488.1 477.7 487.7C478.3 487.4 478.7 495.2 479.4 495.5C480.0 495.8 480.7 490.8 481.4 489.5C482.2 488.1 482.9 487.4 483.7 487.2C484.5 487.1 485.2 489.1 486.2 488.6C487.3 488.1 488.8 484.2 489.7 484.3C490.5 484.4 490.8 488.9 491.4 488.9C492.0 489.0 492.8 484.4 493.5 484.8C494.2 485.2 494.8 490.5 495.7 491.2C496.6 491.9 498.3 489.9 499.1 488.9C500.0 487.9 499.9 485.0 500.6 485.2C501.3 485.3 502.3 489.4 503.2 490.0C504.1 490.5 505.1 489.5 505.8 488.6C506.5 487.6 506.8 483.9 507.5 484.3C508.2 484.7 509.1 490.5 510.1 491.2C511.1 491.9 512.7 488.4 513.5 488.6C514.4 488.8 514.4 492.4 515.2 492.4C516.1 492.4 517.7 488.9 518.7 488.6C519.7 488.2 520.4 490.9 521.2 490.3C522.1 489.7 523.1 485.0 523.8 485.2C524.5 485.3 524.7 492.0 525.5 491.2C526.4 490.3 528.0 479.0 529.0 480.0C530.0 481.0 530.7 496.6 531.6 497.2C532.4 497.8 533.3 485.0 534.1 483.4C535.0 481.9 536.0 487.6 536.7 487.7C537.4 487.9 537.8 483.4 538.4 484.3C539.1 485.2 539.8 492.9 540.5 492.9C541.2 492.9 541.9 486.6 542.7 484.3C543.5 482.0 544.6 478.0 545.3 479.1C546.0 480.3 546.4 490.6 547.0 491.2C547.7 491.7 548.5 482.2 549.1 482.6C549.7 483.0 550.2 494.1 550.8 493.4C551.5 492.7 552.5 477.5 553.0 478.3C553.6 479.1 553.8 497.9 554.2 498.0C554.7 498.2 555.1 479.4 555.6 479.1C556.2 478.9 557.1 495.3 557.7 496.3C558.3 497.3 558.4 486.7 559.1 485.2C559.7 483.6 560.8 486.2 561.6 486.9C562.5 487.5 563.4 490.1 564.2 488.9C565.1 487.8 566.0 479.9 566.8 480.0C567.6 480.1 568.2 487.7 569.0 489.5C569.9 491.2 571.0 490.9 572.0 490.3C572.9 489.7 573.7 486.9 574.5 486.0C575.4 485.2 576.2 484.9 577.1 485.2C578.0 485.4 578.8 487.7 579.7 487.7C580.5 487.7 581.4 485.2 582.3 485.2C583.1 485.2 583.8 487.2 584.8 487.7C585.8 488.3 587.1 488.4 588.3 488.6C589.4 488.8 590.7 489.4 591.7 488.9C592.7 488.5 593.4 485.7 594.3 486.0C595.2 486.3 596.2 490.8 596.9 490.7C597.6 490.5 597.9 486.2 598.6 485.2C599.3 484.1 600.4 483.2 601.2 484.3C602.0 485.4 602.7 491.5 603.4 492.0C604.1 492.6 604.7 488.9 605.5 487.7C606.2 486.6 607.2 484.5 608.0 485.2C608.9 485.8 609.8 491.1 610.6 491.7C611.5 492.3 612.3 488.4 613.2 488.6C614.1 488.8 615.1 491.8 615.8 492.9C616.5 494.0 616.9 495.6 617.5 495.1C618.1 494.7 618.8 491.9 619.6 490.3C620.3 488.7 621.1 485.1 621.8 485.5C622.5 485.9 623.3 492.2 624.0 492.9C624.7 493.5 625.4 489.2 626.1 489.5C626.8 489.7 627.4 494.5 628.2 494.6C629.0 494.8 630.0 490.5 630.9 490.3C631.8 490.2 632.5 493.3 633.3 493.8C634.2 494.2 635.3 492.9 636.1 492.9C636.9 492.9 637.4 494.9 638.1 493.8C638.9 492.6 639.8 487.4 640.7 486.0C641.6 484.6 642.5 484.6 643.3 485.5C644.1 486.4 644.6 490.4 645.3 491.2C646.1 492.0 646.8 489.7 647.6 490.3C648.4 490.9 649.3 494.3 650.2 494.6C651.0 495.0 651.9 492.5 652.7 492.4C653.6 492.2 654.7 492.6 655.3 493.8C656.0 494.9 656.1 500.9 656.7 499.2C657.3 497.6 658.1 484.4 658.8 483.8C659.4 483.2 660.2 494.8 660.8 495.5C661.4 496.1 661.7 486.9 662.2 487.7C662.7 488.6 663.3 500.6 663.9 500.6C664.5 500.6 664.9 489.3 665.6 487.7C666.3 486.2 667.4 488.4 668.2 491.2C669.0 494.0 669.7 503.8 670.4 504.4C671.2 505.0 671.7 496.8 672.5 494.6C673.3 492.4 674.3 490.7 675.1 491.2C675.9 491.6 676.6 497.3 677.3 497.2C678.0 497.0 678.7 492.2 679.4 490.3C680.1 488.5 680.7 485.6 681.4 486.0C682.2 486.4 682.7 490.3 683.7 492.9C684.6 495.5 686.0 501.7 687.1 501.5C688.2 501.3 689.2 491.6 690.0 491.7C690.9 491.8 691.5 501.7 692.3 502.0C693.1 502.3 693.8 495.8 694.8 493.8C695.8 491.7 697.3 489.9 698.3 489.5C699.3 489.0 700.0 489.8 700.9 491.2C701.7 492.5 702.6 497.4 703.4 497.5C704.3 497.7 705.2 492.2 706.0 492.0C706.9 491.8 707.7 496.2 708.6 496.3C709.5 496.5 710.3 493.9 711.2 492.9C712.0 491.9 712.9 490.8 713.8 490.3C714.6 489.8 715.3 489.5 716.3 490.0C717.3 490.4 718.7 491.7 719.8 492.9C720.8 494.1 721.7 496.9 722.7 497.2C723.6 497.5 724.5 495.2 725.4 494.6C726.4 494.0 727.6 493.1 728.4 493.4C729.1 493.7 729.5 496.7 730.1 496.3C730.7 496.0 731.1 493.3 731.8 491.2C732.5 489.1 733.7 483.2 734.4 483.8C735.1 484.4 735.2 493.1 736.1 494.6C737.0 496.1 738.5 493.1 739.5 492.9C740.5 492.7 741.2 493.7 742.1 493.4C743.0 493.1 743.9 490.4 744.7 491.2C745.5 491.9 746.0 498.2 746.8 498.0C747.5 497.8 748.3 490.4 749.0 490.0C749.6 489.5 750.0 496.8 750.7 495.5C751.4 494.2 752.4 482.3 752.9 482.1C753.5 481.8 753.7 492.9 754.1 493.8C754.6 494.6 755.2 487.4 755.9 487.2C756.5 487.1 757.4 492.4 758.1 492.9C758.8 493.3 759.4 489.9 760.2 490.0C760.9 490.1 761.9 493.5 762.7 493.4C763.6 493.3 764.5 490.3 765.3 489.5C766.2 488.7 767.5 488.7 767.9 488.6" stroke="#2a2aff" stroke-width="1.05" stroke-linejoin="round"/>
<rect x="216.00" y="438.30" width="553.00" height="126.70" stroke="#7f7f7f" stroke-width="2"/>
</svg>
<span class="tk" style="left:196.85px;top:570.20px;width:40px;text-align:center">0</span>
<span class="tk" style="left:250.83px;top:570.20px;width:40px;text-align:center">100</span>
<span class="tk" style="left:304.81px;top:570.20px;width:40px;text-align:center">200</span>
<span class="tk" style="left:358.79px;top:570.20px;width:40px;text-align:center">300</span>
<span class="tk" style="left:412.77px;top:570.20px;width:40px;text-align:center">400</span>
<span class="tk" style="left:466.75px;top:570.20px;width:40px;text-align:center">500</span>
<span class="tk" style="left:520.73px;top:570.20px;width:40px;text-align:center">600</span>
<span class="tk" style="left:574.71px;top:570.20px;width:40px;text-align:center">700</span>
<span class="tk" style="left:628.69px;top:570.20px;width:40px;text-align:center">800</span>
<span class="tk" style="left:682.67px;top:570.20px;width:40px;text-align:center">900</span>
<span class="tk" style="left:736.65px;top:570.20px;width:40px;text-align:center">1000</span>
<span class="tk" style="left:172.20px;top:434.20px;width:40px;text-align:right">9500</span>
<span class="tk" style="left:172.20px;top:465.60px;width:40px;text-align:right">9000</span>
<span class="tk" style="left:172.20px;top:497.00px;width:40px;text-align:right">8500</span>
<span class="tk" style="left:172.20px;top:528.40px;width:40px;text-align:right">8000</span>
<span class="tk" style="left:172.20px;top:559.80px;width:40px;text-align:right">7500</span>
<div class="lb" style="left:673.20px;top:445.90px"><i></i></div>
<span class="lg" style="left:690.40px;top:446.60px;color:#8c8c8c">aida02 1.8.W</span>
<div class="dm" style="left:760.60px;top:432.20px;background:#f00"></div>
<svg class="a" style="left:1128px;top:426px" width="640" height="150" viewBox="1128 426 640 150" fill="none">
<path d="M1223.50 438.30V565.00M1277.50 438.30V565.00M1331.50 438.30V565.00M1385.50 438.30V565.00M1439.50 438.30V565.00M1493.50 438.30V565.00M1547.50 438.30V565.00M1601.50 438.30V565.00M1655.50 438.30V565.00M1709.50 438.30V565.00M1168.00 532.50H1721.00M1168.00 501.50H1721.00M1168.00 470.50H1721.00" stroke="#e6e6e6" stroke-width="1"/>
<path d="M1168.3 517.1C1168.6 516.0 1169.2 511.2 1169.8 510.3C1170.4 509.4 1171.0 510.2 1171.8 511.8C1172.5 513.4 1173.4 520.8 1174.3 519.8C1175.3 518.8 1176.6 507.4 1177.4 505.8C1178.1 504.2 1178.3 509.9 1178.9 510.3C1179.5 510.7 1180.4 506.9 1181.1 508.1C1181.9 509.2 1182.6 517.0 1183.4 517.4C1184.2 517.8 1185.1 510.2 1186.0 510.3C1186.8 510.5 1187.7 517.6 1188.4 518.3C1189.1 519.1 1189.5 516.1 1190.2 514.8C1190.9 513.6 1191.6 511.1 1192.5 511.1C1193.4 511.1 1194.6 515.9 1195.5 514.8C1196.4 513.8 1197.1 505.8 1197.8 505.0C1198.4 504.3 1198.9 507.9 1199.6 510.3C1200.3 512.7 1201.2 521.0 1202.0 519.4C1202.8 517.7 1203.9 501.1 1204.6 500.5C1205.2 499.9 1205.5 511.3 1206.1 515.6C1206.6 519.9 1207.3 525.9 1207.9 526.2C1208.5 526.4 1209.1 519.6 1209.8 517.1C1210.5 514.6 1211.4 510.8 1212.1 511.1C1212.8 511.3 1213.4 517.4 1214.1 518.6C1214.7 519.9 1215.2 521.3 1215.9 518.6C1216.6 516.0 1217.5 505.5 1218.2 502.8C1218.8 500.0 1219.0 498.5 1219.7 502.0C1220.3 505.5 1221.2 521.8 1221.9 523.9C1222.6 526.1 1223.1 515.6 1223.7 514.8C1224.4 514.1 1225.0 519.9 1225.7 519.4C1226.4 518.9 1227.3 512.1 1228.0 511.8C1228.6 511.6 1229.1 518.1 1229.8 517.9C1230.5 517.6 1231.5 509.9 1232.2 510.3C1232.9 510.7 1233.4 522.4 1234.0 520.1C1234.6 517.9 1235.3 499.7 1236.0 496.7C1236.6 493.7 1237.3 499.1 1237.8 502.0C1238.3 504.9 1238.4 511.8 1238.8 514.1C1239.3 516.4 1239.9 513.1 1240.4 515.6C1240.9 518.1 1241.3 531.8 1241.9 529.2C1242.4 526.6 1243.4 502.5 1243.8 499.7C1244.3 497.0 1244.2 508.1 1244.6 512.6C1245.0 517.1 1245.6 527.3 1246.1 526.9C1246.6 526.6 1247.2 512.5 1247.6 510.3C1248.0 508.2 1247.9 510.8 1248.4 514.1C1248.8 517.4 1249.6 532.0 1250.2 530.0C1250.7 527.9 1251.3 504.9 1251.7 502.0C1252.1 499.1 1252.1 508.0 1252.4 512.6C1252.8 517.2 1253.4 531.8 1253.9 529.5C1254.5 527.2 1255.4 502.3 1255.9 499.0C1256.4 495.7 1256.6 505.8 1257.0 509.6C1257.3 513.3 1257.7 522.5 1258.2 521.6C1258.6 520.8 1259.2 505.5 1259.7 504.3C1260.1 503.0 1260.5 510.2 1260.9 514.1C1261.3 518.0 1261.4 530.0 1262.0 527.7C1262.5 525.4 1263.4 503.3 1263.9 500.5C1264.5 497.7 1264.8 507.5 1265.3 511.1C1265.7 514.6 1266.0 523.2 1266.5 521.6C1267.0 520.1 1267.8 504.8 1268.4 502.0C1269.1 499.2 1269.7 508.4 1270.3 505.0C1270.9 501.6 1271.5 483.1 1272.1 481.6C1272.6 480.1 1273.1 495.1 1273.6 496.0C1274.1 496.8 1274.6 491.7 1275.1 486.9C1275.6 482.1 1276.3 465.2 1276.8 467.0C1277.2 468.7 1277.3 495.3 1277.8 497.5C1278.4 499.7 1279.4 481.9 1280.1 480.1C1280.7 478.3 1281.2 486.7 1281.6 486.9C1282.0 487.2 1282.4 481.1 1282.6 481.6C1282.9 482.1 1282.8 490.4 1283.1 489.9C1283.4 489.4 1283.8 477.1 1284.3 478.6C1284.8 480.1 1285.6 494.9 1286.1 499.0C1286.7 503.1 1287.1 505.6 1287.6 503.2C1288.2 500.8 1289.1 487.5 1289.6 484.6C1290.1 481.8 1290.3 487.2 1290.7 486.2C1291.0 485.1 1291.4 478.7 1291.7 478.6C1292.0 478.5 1292.2 485.4 1292.6 485.4C1293.0 485.4 1293.7 479.6 1294.1 478.6C1294.6 477.6 1294.8 477.1 1295.2 479.4C1295.6 481.6 1296.2 491.1 1296.7 492.2C1297.2 493.3 1297.7 487.4 1298.2 486.2C1298.7 484.9 1299.1 483.4 1299.7 484.6C1300.3 485.9 1301.2 492.4 1302.0 493.7C1302.7 495.0 1303.5 491.2 1304.2 492.2C1304.9 493.2 1305.6 499.9 1306.2 499.7C1306.8 499.6 1307.3 494.3 1308.0 491.4C1308.7 488.5 1309.7 482.9 1310.3 482.4C1310.9 481.9 1311.2 489.2 1311.8 488.4C1312.4 487.7 1313.1 478.5 1313.8 477.8C1314.4 477.2 1314.9 482.1 1315.6 484.6C1316.3 487.2 1317.2 492.4 1317.8 492.9C1318.5 493.5 1318.8 487.9 1319.3 487.7C1319.9 487.4 1320.4 489.5 1320.9 491.4C1321.4 493.3 1321.9 498.4 1322.4 499.0C1322.9 499.6 1323.4 494.7 1323.9 495.2C1324.4 495.7 1324.8 503.4 1325.4 502.0C1326.0 500.6 1326.7 488.7 1327.4 486.9C1328.0 485.1 1328.6 490.6 1329.2 491.4C1329.7 492.3 1330.2 496.2 1330.7 492.2C1331.2 488.2 1331.7 468.7 1332.2 467.3C1332.6 465.9 1333.0 478.3 1333.4 483.9C1333.8 489.4 1334.0 501.0 1334.5 500.5C1334.9 500.0 1335.5 485.5 1336.0 480.9C1336.4 476.2 1336.6 470.5 1337.0 472.6C1337.4 474.6 1338.0 490.4 1338.5 492.9C1339.0 495.5 1339.5 486.5 1340.0 487.7C1340.6 488.8 1341.4 499.6 1342.0 499.7C1342.7 499.9 1343.5 490.4 1344.0 488.4C1344.5 486.4 1344.6 485.1 1345.0 487.7C1345.5 490.2 1345.9 504.3 1346.5 503.5C1347.2 502.8 1348.2 486.3 1348.8 483.1C1349.4 480.0 1349.8 485.3 1350.3 484.6C1350.9 484.0 1351.5 478.7 1352.1 479.4C1352.8 480.0 1353.4 487.0 1354.1 488.4C1354.8 489.8 1355.6 488.3 1356.4 487.7C1357.1 487.0 1358.0 484.0 1358.6 484.6C1359.2 485.3 1359.6 488.7 1360.1 491.4C1360.6 494.2 1361.1 499.5 1361.6 501.3C1362.1 503.0 1362.6 504.4 1363.2 502.0C1363.7 499.6 1364.5 486.5 1365.1 486.9C1365.7 487.3 1366.2 505.4 1366.9 504.3C1367.6 503.1 1368.6 483.3 1369.2 480.1C1369.8 477.0 1370.1 485.4 1370.7 485.4C1371.3 485.4 1372.2 478.3 1373.0 480.1C1373.7 481.9 1374.5 496.8 1375.2 496.0C1376.0 495.1 1376.8 474.9 1377.5 475.1C1378.2 475.4 1378.8 496.6 1379.5 497.5C1380.1 498.3 1380.8 482.1 1381.3 480.1C1381.8 478.1 1381.9 482.2 1382.3 485.4C1382.8 488.6 1383.3 499.8 1383.8 499.3C1384.4 498.8 1385.1 483.4 1385.5 482.4C1386.0 481.3 1386.1 492.7 1386.6 492.9C1387.0 493.2 1387.5 486.9 1388.1 483.9C1388.6 480.9 1389.3 472.9 1389.9 475.1C1390.5 477.4 1391.3 495.8 1391.8 497.5C1392.4 499.2 1392.9 487.7 1393.4 485.4C1393.9 483.1 1394.1 484.1 1394.9 483.9C1395.6 483.6 1397.0 481.1 1397.9 483.9C1398.8 486.7 1399.5 498.0 1400.2 500.5C1400.8 503.0 1400.9 501.4 1401.7 499.0C1402.4 496.6 1403.8 485.4 1404.7 486.2C1405.6 486.9 1406.5 503.8 1407.3 503.5C1408.0 503.3 1408.5 486.2 1409.2 484.6C1409.9 483.1 1410.7 494.3 1411.5 494.5C1412.2 494.6 1412.9 486.3 1413.8 485.4C1414.6 484.5 1415.9 489.0 1416.8 489.2C1417.7 489.3 1418.2 485.0 1419.0 486.2C1419.9 487.3 1421.2 495.6 1422.1 496.0C1422.9 496.3 1423.6 489.3 1424.3 488.4C1425.0 487.5 1425.6 491.3 1426.1 490.7C1426.7 490.1 1427.1 484.3 1427.6 484.6C1428.2 485.0 1428.9 493.3 1429.6 492.9C1430.3 492.6 1431.0 483.4 1431.9 482.7C1432.8 481.9 1433.8 489.0 1434.9 488.4C1436.0 487.9 1437.3 476.5 1438.4 479.4C1439.4 482.2 1440.4 504.6 1441.2 505.3C1442.1 506.1 1443.0 484.7 1443.7 483.9C1444.3 483.1 1444.5 500.8 1445.2 500.5C1445.8 500.2 1447.1 483.4 1447.7 482.4C1448.4 481.4 1449.0 492.3 1449.2 494.5C1449.5 496.6 1448.9 497.5 1449.4 495.2C1449.8 492.9 1451.0 482.0 1451.8 480.9C1452.6 479.7 1453.6 486.9 1454.3 488.4C1455.1 489.9 1455.7 488.5 1456.3 489.9C1456.9 491.3 1457.5 498.4 1458.1 496.7C1458.7 495.1 1459.3 479.7 1459.9 480.1C1460.6 480.5 1461.2 495.6 1461.9 499.0C1462.6 502.4 1463.4 503.5 1463.9 500.5C1464.4 497.5 1464.3 481.2 1464.9 480.9C1465.5 480.5 1466.7 499.1 1467.5 498.2C1468.3 497.4 1469.2 477.7 1469.9 475.6C1470.6 473.4 1471.1 484.0 1471.7 485.4C1472.3 486.8 1472.9 481.2 1473.5 483.9C1474.2 486.5 1474.8 502.1 1475.5 501.3C1476.2 500.4 1477.0 478.4 1477.8 478.6C1478.5 478.8 1479.3 500.8 1480.0 502.3C1480.7 503.8 1481.3 487.7 1482.0 487.7C1482.7 487.6 1483.4 503.4 1484.1 502.0C1484.8 500.6 1485.4 481.4 1486.1 479.4C1486.7 477.3 1487.4 488.8 1488.0 489.9C1488.7 491.1 1489.1 485.1 1489.8 486.2C1490.6 487.2 1491.7 497.7 1492.6 496.0C1493.4 494.2 1494.4 475.6 1495.1 475.6C1495.9 475.6 1496.5 494.0 1497.1 496.0C1497.7 498.0 1498.2 486.5 1498.9 487.7C1499.6 488.8 1500.4 504.3 1501.2 502.8C1501.9 501.3 1502.7 481.1 1503.4 478.6C1504.2 476.1 1505.1 485.3 1505.7 487.7C1506.3 490.1 1506.6 491.3 1507.2 492.9C1507.8 494.6 1508.5 502.1 1509.2 497.5C1509.8 492.8 1510.2 464.3 1511.0 465.0C1511.7 465.7 1512.9 499.1 1513.7 501.7C1514.5 504.3 1515.1 480.9 1515.8 480.6C1516.6 480.2 1517.4 498.3 1518.2 499.7C1519.1 501.2 1520.1 491.1 1520.8 489.2C1521.6 487.3 1522.1 486.3 1522.8 488.4C1523.5 490.5 1524.1 502.3 1524.9 501.7C1525.6 501.1 1526.6 485.5 1527.3 484.6C1528.0 483.8 1528.4 498.7 1529.1 496.7C1529.8 494.8 1530.8 472.8 1531.7 473.0C1532.6 473.3 1533.6 496.2 1534.4 498.2C1535.2 500.3 1535.9 488.0 1536.7 485.4C1537.4 482.8 1538.2 479.4 1538.9 482.4C1539.6 485.4 1540.1 502.9 1540.9 503.5C1541.7 504.2 1542.7 488.2 1543.5 486.2C1544.3 484.1 1545.0 490.7 1545.7 491.4C1546.4 492.2 1546.8 492.6 1547.5 490.7C1548.3 488.8 1549.4 480.2 1550.3 480.1C1551.1 480.0 1551.9 488.5 1552.5 489.9C1553.2 491.3 1553.4 487.0 1554.0 488.4C1554.7 489.9 1555.9 498.6 1556.6 498.7C1557.3 498.8 1557.6 489.1 1558.1 489.2C1558.6 489.2 1559.0 498.5 1559.6 499.0C1560.2 499.5 1560.9 492.6 1561.6 492.2C1562.3 491.7 1563.1 496.3 1563.9 496.3C1564.6 496.3 1565.5 492.7 1566.1 492.2C1566.7 491.6 1567.1 494.0 1567.6 492.9C1568.2 491.9 1569.0 486.1 1569.6 485.7C1570.2 485.3 1570.9 489.8 1571.4 490.7C1572.0 491.6 1572.4 493.0 1572.9 491.1C1573.5 489.2 1574.1 477.9 1574.7 479.4C1575.4 480.8 1576.0 498.4 1576.7 499.7C1577.3 501.1 1577.9 486.4 1578.7 487.7C1579.4 488.9 1580.5 508.6 1581.2 507.3C1582.0 506.0 1582.5 482.8 1583.2 480.1C1583.9 477.5 1584.6 492.4 1585.3 491.4C1586.0 490.4 1586.9 473.6 1587.6 474.1C1588.3 474.6 1588.9 493.3 1589.5 494.5C1590.2 495.6 1590.9 481.4 1591.5 481.2C1592.1 480.9 1592.7 493.2 1593.3 492.9C1593.9 492.6 1594.5 477.7 1595.3 479.4C1596.0 481.0 1597.2 502.0 1597.8 502.8C1598.5 503.6 1598.7 483.6 1599.3 484.2C1600.0 484.8 1600.7 507.9 1601.6 506.5C1602.5 505.2 1603.8 477.7 1604.6 476.3C1605.5 474.9 1606.0 497.5 1606.9 498.2C1607.8 498.9 1608.8 481.4 1609.9 480.6C1611.0 479.7 1612.5 492.3 1613.4 492.9C1614.3 493.6 1614.8 484.6 1615.5 484.6C1616.2 484.6 1616.8 492.3 1617.5 492.9C1618.1 493.6 1618.7 487.0 1619.4 488.4C1620.2 489.8 1621.0 503.0 1622.0 501.3C1623.0 499.5 1624.5 479.2 1625.5 477.8C1626.4 476.5 1626.9 492.0 1627.6 493.2C1628.3 494.5 1628.9 484.8 1629.6 485.1C1630.2 485.4 1630.9 495.9 1631.5 495.2C1632.1 494.5 1632.4 480.3 1633.0 480.9C1633.6 481.4 1634.4 499.2 1635.1 498.7C1635.9 498.1 1636.6 477.5 1637.3 477.5C1638.0 477.5 1638.6 497.8 1639.4 498.7C1640.1 499.6 1641.0 483.4 1641.6 483.1C1642.3 482.9 1642.6 498.4 1643.2 497.2C1643.7 495.9 1644.4 476.1 1645.1 475.6C1645.8 475.1 1646.5 493.5 1647.2 494.2C1647.9 494.8 1648.6 478.8 1649.2 479.4C1649.8 479.9 1650.0 497.2 1650.7 497.5C1651.4 497.8 1652.5 481.9 1653.3 481.2C1654.0 480.4 1654.7 492.3 1655.2 492.9C1655.7 493.6 1655.7 484.2 1656.3 485.1C1656.9 486.0 1657.9 499.2 1658.7 498.2C1659.5 497.3 1660.6 480.2 1661.3 479.4C1662.0 478.5 1662.2 492.8 1662.8 492.9C1663.4 493.1 1664.3 479.2 1665.1 480.1C1665.8 481.1 1666.6 498.8 1667.3 498.7C1668.1 498.6 1668.8 480.3 1669.6 479.4C1670.3 478.4 1671.1 489.0 1671.8 492.9C1672.6 496.9 1673.1 504.4 1673.8 503.2C1674.5 502.1 1675.1 485.4 1675.9 486.2C1676.7 486.9 1677.7 507.8 1678.6 507.8C1679.6 507.8 1680.9 488.9 1681.7 486.2C1682.4 483.4 1682.7 491.6 1683.2 491.4C1683.7 491.3 1684.1 484.9 1684.7 485.1C1685.2 485.3 1685.8 494.0 1686.5 492.6C1687.2 491.3 1688.1 476.8 1688.9 477.1C1689.7 477.4 1690.6 493.1 1691.5 494.5C1692.4 495.8 1693.7 485.4 1694.5 485.4C1695.3 485.3 1695.7 493.7 1696.5 494.2C1697.2 494.7 1698.3 489.2 1699.0 488.4C1699.8 487.7 1700.1 493.2 1701.0 489.6C1701.9 486.1 1703.3 467.3 1704.3 467.0C1705.4 466.6 1706.5 485.4 1707.3 487.7C1708.1 489.9 1708.4 479.3 1709.2 480.6C1709.9 481.8 1711.0 493.4 1711.9 495.2C1712.7 497.0 1713.5 492.6 1714.1 491.4C1714.8 490.3 1715.1 487.3 1715.7 488.4C1716.2 489.5 1716.7 498.6 1717.2 498.2C1717.7 497.9 1718.2 487.3 1718.7 486.2C1719.2 485.0 1719.9 490.6 1720.2 491.4" stroke="#2a2aff" stroke-width="1.05" stroke-linejoin="round"/>
<rect x="1168.00" y="438.30" width="553.00" height="126.70" stroke="#7f7f7f" stroke-width="2"/>
</svg>
<span class="tk" style="left:1148.85px;top:570.20px;width:40px;text-align:center">0</span>
<span class="tk" style="left:1202.83px;top:570.20px;width:40px;text-align:center">100</span>
<span class="tk" style="left:1256.81px;top:570.20px;width:40px;text-align:center">200</span>
<span class="tk" style="left:1310.79px;top:570.20px;width:40px;text-align:center">300</span>
<span class="tk" style="left:1364.77px;top:570.20px;width:40px;text-align:center">400</span>
<span class="tk" style="left:1418.75px;top:570.20px;width:40px;text-align:center">500</span>
<span class="tk" style="left:1472.73px;top:570.20px;width:40px;text-align:center">600</span>
<span class="tk" style="left:1526.71px;top:570.20px;width:40px;text-align:center">700</span>
<span class="tk" style="left:1580.69px;top:570.20px;width:40px;text-align:center">800</span>
<span class="tk" style="left:1634.67px;top:570.20px;width:40px;text-align:center">900</span>
<span class="tk" style="left:1688.65px;top:570.20px;width:40px;text-align:center">1000</span>
<span class="tk" style="left:1124.20px;top:434.20px;width:40px;text-align:right">9500</span>
<span class="tk" style="left:1124.20px;top:465.60px;width:40px;text-align:right">9000</span>
<span class="tk" style="left:1124.20px;top:497.00px;width:40px;text-align:right">8500</span>
<span class="tk" style="left:1124.20px;top:528.40px;width:40px;text-align:right">8000</span>
<span class="tk" style="left:1124.20px;top:559.80px;width:40px;text-align:right">7500</span>
<div class="lb" style="left:1625.20px;top:445.90px"><i></i></div>
<span class="lg" style="left:1642.40px;top:446.60px;color:#8c8c8c">aida04 1.8.W</span>
<div class="dm" style="left:1712.60px;top:432.20px;background:#f00"></div>
<svg class="a" style="left:176px;top:588px" width="640" height="150" viewBox="176 588 640 150" fill="none">
<path d="M271.50 600.30V727.00M325.50 600.30V727.00M379.50 600.30V727.00M433.50 600.30V727.00M487.50 600.30V727.00M541.50 600.30V727.00M595.50 600.30V727.00M649.50 600.30V727.00M703.50 600.30V727.00M757.50 600.30V727.00M216.00 694.50H769.00M216.00 663.50H769.00M216.00 632.50H769.00" stroke="#e6e6e6" stroke-width="1"/>
<path d="M216.8 676.1C217.1 675.5 218.1 670.3 218.8 672.3C219.4 674.3 219.9 685.4 220.6 688.2C221.3 690.9 222.2 687.4 222.8 688.9C223.5 690.4 223.3 701.4 224.3 697.2C225.4 693.1 227.5 670.7 228.9 664.0C230.2 657.3 231.3 656.5 232.4 657.2C233.4 658.0 234.1 662.9 234.9 668.5C235.7 674.2 236.7 688.1 237.2 691.2C237.7 694.3 237.4 686.2 237.9 687.4C238.4 688.7 239.5 697.9 240.2 698.8C241.0 699.6 241.7 696.4 242.5 692.7C243.3 689.1 244.2 681.6 245.0 676.8C245.9 672.1 246.8 666.9 247.8 664.0C248.7 661.1 249.8 657.7 250.8 659.5C251.8 661.2 252.5 667.2 253.8 674.6C255.1 682.0 257.2 701.0 258.3 704.0C259.5 707.1 259.7 696.1 260.6 692.7C261.5 689.3 262.6 688.4 263.6 683.6C264.6 678.9 265.9 667.5 266.6 664.0C267.4 660.5 267.5 661.7 268.2 662.5C268.8 663.3 269.8 665.5 270.4 668.5C271.0 671.6 271.4 677.6 271.9 680.6C272.4 683.6 272.9 683.1 273.4 686.7C273.9 690.2 274.3 700.8 274.9 701.8C275.6 702.8 276.7 693.3 277.2 692.7C277.8 692.1 277.8 699.8 278.3 698.0C278.8 696.2 279.8 684.0 280.2 682.1C280.7 680.2 280.4 688.4 281.0 686.7C281.6 684.9 283.0 674.8 284.0 671.6C285.0 668.3 286.2 666.0 287.0 667.0C287.9 668.0 288.5 674.8 289.3 677.6C290.1 680.4 290.9 681.0 291.6 683.6C292.2 686.3 292.4 690.4 293.1 693.5C293.8 696.5 294.9 701.9 295.8 701.8C296.7 701.6 297.6 696.7 298.4 692.7C299.2 688.7 299.9 680.4 300.6 677.6C301.3 674.8 301.8 678.4 302.4 676.1C303.1 673.8 303.7 665.8 304.4 664.0C305.1 662.2 306.0 664.8 306.7 665.5C307.3 666.3 307.7 665.8 308.2 668.5C308.7 671.3 309.2 680.0 309.7 682.1C310.2 684.3 310.7 680.0 311.2 681.4C311.7 682.8 312.2 688.8 312.7 690.4C313.2 692.1 313.7 690.3 314.2 691.2C314.7 692.1 315.1 696.5 315.7 695.7C316.4 695.0 317.2 691.2 318.0 686.7C318.8 682.1 319.4 675.8 320.3 668.5C321.1 661.2 322.1 650.2 323.3 642.9C324.4 635.6 326.2 626.8 327.1 624.7C327.9 622.7 327.9 626.8 328.6 630.8C329.2 634.8 330.1 643.9 330.8 648.9C331.6 653.9 332.2 656.5 333.1 661.0C334.0 665.5 335.4 674.3 336.1 676.1C336.9 677.9 337.2 671.4 337.6 671.6C338.1 671.7 338.2 679.6 338.7 676.8C339.2 674.1 339.8 662.1 340.7 654.9C341.5 647.8 342.7 639.5 343.7 633.8C344.6 628.1 345.7 621.1 346.4 621.0C347.1 620.8 347.2 632.2 347.8 633.0C348.3 633.9 349.1 624.0 349.7 626.2C350.3 628.5 351.0 643.7 351.5 646.6C352.0 649.5 352.2 640.1 352.7 643.6C353.3 647.1 354.1 665.9 354.7 667.8C355.3 669.7 355.7 655.2 356.2 654.9C356.7 654.7 357.0 667.0 357.6 666.3C358.1 665.5 359.0 652.8 359.5 650.4C360.1 648.0 360.5 652.4 361.0 651.9C361.5 651.4 362.0 648.2 362.6 647.4C363.1 646.6 363.4 649.0 364.1 647.4C364.8 645.8 366.0 637.2 366.8 637.6C367.5 638.0 368.0 647.5 368.6 649.7C369.1 651.8 369.5 648.7 370.1 650.4C370.7 652.2 371.5 657.6 372.4 660.2C373.3 662.9 374.6 666.4 375.4 666.3C376.1 666.2 376.4 659.9 376.9 659.5C377.4 659.1 377.8 666.2 378.4 664.0C379.0 661.9 379.7 651.7 380.7 646.6C381.7 641.6 383.6 635.2 384.5 633.8C385.3 632.4 385.5 638.3 386.0 638.3C386.4 638.3 386.6 632.9 387.0 633.8C387.4 634.7 387.8 641.1 388.2 643.6C388.7 646.1 389.3 645.3 389.7 648.9C390.2 652.6 390.4 663.8 390.9 665.5C391.5 667.3 392.2 659.1 392.8 659.5C393.4 659.9 393.9 667.0 394.6 667.8C395.2 668.5 396.0 664.3 396.5 664.0C397.1 663.8 397.5 669.3 398.0 666.3C398.6 663.3 399.1 648.8 399.6 645.9C400.1 643.0 400.4 650.2 401.1 648.9C401.7 647.6 402.9 639.5 403.6 638.3C404.4 637.2 405.0 641.6 405.6 642.1C406.2 642.6 406.5 640.0 407.1 641.4C407.7 642.7 408.7 648.5 409.4 650.4C410.0 652.3 410.2 650.5 410.9 652.7C411.6 654.8 412.6 661.6 413.5 663.3C414.3 664.9 415.2 664.8 416.2 662.5C417.1 660.2 418.3 653.3 419.2 649.7C420.1 646.0 420.8 641.9 421.5 640.6C422.1 639.3 422.4 642.4 423.0 642.1C423.5 641.8 424.0 638.1 424.8 638.6C425.5 639.1 426.5 641.5 427.5 645.1C428.5 648.7 429.5 656.7 430.5 660.2C431.5 663.8 432.6 665.5 433.5 666.3C434.5 667.0 435.5 666.4 436.3 664.8C437.0 663.1 437.5 658.0 438.1 656.5C438.6 654.9 439.0 658.7 439.6 655.7C440.2 652.7 441.2 641.5 441.8 638.3C442.5 635.2 442.9 638.3 443.4 636.8C443.8 635.3 444.1 628.4 444.6 629.3C445.1 630.2 445.8 640.6 446.4 642.1C447.0 643.6 447.6 636.7 448.2 638.3C448.8 640.0 449.5 649.2 450.2 651.9C450.8 654.7 451.5 651.9 452.1 654.9C452.7 658.0 453.3 668.5 453.9 670.1C454.6 671.6 455.3 665.1 455.9 664.0C456.5 662.9 456.9 665.4 457.4 663.3C458.0 661.1 458.7 652.6 459.2 651.2C459.8 649.8 460.2 655.3 460.7 654.9C461.3 654.6 461.9 648.7 462.5 648.9C463.2 649.2 463.9 657.6 464.5 656.5C465.1 655.3 465.5 641.9 466.0 642.1C466.5 642.4 467.1 656.3 467.5 658.0C468.0 659.6 468.3 651.2 468.7 651.9C469.2 652.7 469.7 661.5 470.1 662.5C470.5 663.5 470.7 657.3 471.0 658.0C471.3 658.6 471.6 666.8 472.1 666.3C472.5 665.8 473.1 657.0 473.6 654.9C474.1 652.9 474.4 655.7 475.1 654.2C475.7 652.7 476.5 648.5 477.3 645.9C478.2 643.2 479.6 639.5 480.4 638.3C481.1 637.2 481.3 639.1 481.9 639.1C482.4 639.0 483.1 636.4 483.7 638.0C484.3 639.7 485.1 647.0 485.7 648.9C486.2 650.8 486.7 648.4 487.2 649.7C487.7 650.9 488.2 655.3 488.7 656.5C489.2 657.6 489.7 654.9 490.2 656.5C490.6 658.0 490.9 665.5 491.4 665.5C491.8 665.5 492.3 657.5 492.9 656.5C493.5 655.5 494.0 659.5 494.7 659.5C495.4 659.5 496.2 659.0 497.0 656.5C497.7 653.9 498.8 646.5 499.2 644.4C499.7 642.2 499.5 642.6 499.8 643.6C500.1 644.6 500.4 650.5 500.9 650.4C501.4 650.3 502.3 642.5 502.8 642.9C503.4 643.2 503.8 651.8 504.3 652.7C504.9 653.6 505.2 648.0 505.9 648.2C506.5 648.3 507.4 652.1 508.1 653.4C508.9 654.8 509.7 655.3 510.4 656.5C511.1 657.6 511.7 660.7 512.4 660.2C513.0 659.7 513.4 655.7 514.2 653.4C515.0 651.2 516.4 647.9 517.2 646.6C517.9 645.4 518.1 645.0 518.7 645.9C519.3 646.8 520.3 651.2 521.0 651.9C521.7 652.7 522.2 649.8 522.9 650.4C523.7 651.0 524.8 654.3 525.5 655.7C526.2 657.1 526.2 656.1 527.0 658.7C527.8 661.4 529.6 670.9 530.5 671.6C531.4 672.2 531.7 664.6 532.3 662.5C532.9 660.4 533.5 661.5 534.1 658.7C534.7 656.0 535.6 647.3 536.1 645.9C536.6 644.5 536.6 651.0 537.1 650.4C537.6 649.8 538.4 642.6 539.1 642.1C539.8 641.6 540.7 646.4 541.4 647.4C542.0 648.4 542.6 647.3 543.2 648.2C543.7 649.0 544.1 652.8 544.7 652.7C545.3 652.6 545.9 648.3 546.6 647.4C547.3 646.5 548.2 645.3 548.9 647.1C549.7 648.9 550.5 656.3 551.2 658.0C551.8 659.7 552.1 656.6 552.7 657.2C553.3 657.8 554.0 661.5 554.6 661.7C555.3 662.0 555.8 659.0 556.5 658.7C557.1 658.5 557.8 660.9 558.7 660.2C559.6 659.6 560.7 657.1 561.7 654.9C562.8 652.8 563.9 649.5 564.8 647.4C565.6 645.3 566.3 641.4 567.0 642.1C567.8 642.9 568.7 650.5 569.3 651.9C569.9 653.3 570.2 648.9 570.8 650.4C571.4 651.9 572.5 660.2 573.1 661.0C573.7 661.7 573.8 654.6 574.3 654.9C574.7 655.3 575.2 664.3 575.8 663.3C576.3 662.2 577.2 651.2 577.6 648.9C578.0 646.6 577.9 651.4 578.4 649.7C578.9 647.9 579.9 640.8 580.6 638.3C581.4 635.9 582.3 635.5 582.9 635.0C583.5 634.5 584.0 633.5 584.4 635.3C584.8 637.1 584.8 645.3 585.2 645.9C585.5 646.5 586.0 637.8 586.7 639.1C587.3 640.3 588.4 650.7 588.9 653.4C589.5 656.2 589.5 652.5 590.0 655.7C590.5 658.9 591.4 671.5 592.0 672.8C592.5 674.0 593.0 664.0 593.5 663.3C594.0 662.6 594.5 668.9 595.0 668.5C595.5 668.2 596.0 662.4 596.5 661.0C597.0 659.6 597.4 662.4 598.0 660.2C598.6 658.1 599.3 651.4 600.3 648.2C601.2 644.9 602.7 640.2 603.6 640.6C604.5 641.0 605.0 647.8 605.5 650.4C606.1 653.1 606.4 655.6 607.1 656.5C607.7 657.3 608.7 655.3 609.3 655.7C610.0 656.1 610.2 659.1 610.8 658.7C611.5 658.3 612.5 654.2 613.1 653.4C613.7 652.7 614.0 656.0 614.6 654.2C615.2 652.4 616.1 644.2 616.9 642.9C617.6 641.5 618.4 644.4 619.1 645.9C619.9 647.4 620.7 649.9 621.4 651.9C622.2 653.9 622.8 655.8 623.7 658.0C624.6 660.1 625.9 663.8 626.7 664.8C627.4 665.8 627.7 664.9 628.2 664.0C628.7 663.1 629.2 660.6 629.7 659.5C630.2 658.3 630.7 660.2 631.2 657.2C631.7 654.2 632.2 644.1 632.7 641.4C633.2 638.6 633.7 642.1 634.2 640.6C634.7 639.1 635.3 632.7 635.8 632.3C636.3 631.9 636.8 637.7 637.3 638.3C637.8 639.0 638.1 634.2 638.8 636.1C639.4 638.0 640.4 647.4 641.0 649.7C641.7 651.9 642.0 648.3 642.6 649.7C643.1 651.0 643.8 656.7 644.4 658.0C644.9 659.2 645.4 656.6 645.9 657.2C646.3 657.8 646.5 662.6 647.1 661.7C647.7 660.9 648.7 653.9 649.3 651.9C650.0 649.9 650.1 650.3 650.9 649.7C651.6 649.0 653.1 649.3 653.9 648.2C654.6 647.0 655.0 642.0 655.4 642.9C655.8 643.7 655.8 653.6 656.1 653.4C656.5 653.3 657.0 642.2 657.4 642.1C657.7 642.0 657.8 652.7 658.1 652.7C658.4 652.7 658.8 642.2 659.2 642.1C659.5 642.0 659.9 651.9 660.2 651.9C660.6 651.9 660.8 642.1 661.1 642.1C661.5 642.1 661.8 649.9 662.2 651.9C662.6 653.9 663.2 654.6 663.7 654.2C664.2 653.8 664.6 650.9 665.2 649.7C665.8 648.4 666.8 646.1 667.5 646.6C668.1 647.1 668.5 652.2 669.0 652.7C669.5 653.2 669.9 649.0 670.5 649.7C671.1 650.3 672.1 655.7 672.8 656.5C673.4 657.2 673.6 653.4 674.3 654.2C674.9 654.9 675.9 660.9 676.5 661.0C677.2 661.1 677.5 654.6 678.0 654.9C678.6 655.3 679.0 664.1 679.6 663.3C680.1 662.4 681.0 650.3 681.5 649.7C682.0 649.0 682.0 660.2 682.6 659.5C683.1 658.7 684.2 647.1 684.8 645.1C685.5 643.1 685.9 647.5 686.4 647.4C686.8 647.3 686.9 644.8 687.4 644.4C687.9 644.0 688.7 643.6 689.4 645.1C690.1 646.6 691.0 652.7 691.6 653.4C692.3 654.2 692.6 650.7 693.2 649.7C693.7 648.7 694.2 646.5 694.7 647.4C695.2 648.3 695.7 652.6 696.2 654.9C696.7 657.3 697.1 662.5 697.7 661.7C698.3 661.0 699.2 652.7 699.9 650.4C700.7 648.2 701.6 648.3 702.2 648.2C702.8 648.0 703.2 648.8 703.7 649.7C704.2 650.5 704.6 653.3 705.2 653.4C705.9 653.6 706.9 650.8 707.5 650.4C708.1 650.0 708.5 651.4 709.0 651.2C709.5 650.9 709.9 648.3 710.5 648.9C711.2 649.5 712.2 653.2 712.8 654.9C713.4 656.7 713.7 659.5 714.3 659.5C714.9 659.5 715.8 656.0 716.6 654.9C717.3 653.9 718.1 652.8 718.8 653.4C719.6 654.1 720.3 659.1 721.1 658.7C721.8 658.3 722.9 651.7 723.4 651.2C723.9 650.7 723.7 656.0 724.1 655.7C724.5 655.5 724.9 650.8 725.6 649.7C726.4 648.5 727.8 649.4 728.6 648.9C729.5 648.4 730.1 648.2 730.9 646.6C731.7 645.1 732.7 638.3 733.5 639.8C734.2 641.4 734.9 653.4 735.4 655.7C736.0 658.0 736.3 652.3 737.0 653.4C737.6 654.6 738.5 661.2 739.2 662.5C739.9 663.8 740.5 661.1 741.0 661.0C741.6 660.9 741.8 663.5 742.5 661.7C743.2 660.0 744.4 653.2 745.3 650.4C746.1 647.6 746.8 646.8 747.5 645.1C748.3 643.5 749.0 640.9 749.8 640.6C750.5 640.3 751.3 642.7 752.1 643.6C752.8 644.5 753.6 644.0 754.3 645.9C755.1 647.8 755.9 652.7 756.6 654.9C757.3 657.2 757.8 659.1 758.6 659.5C759.3 659.9 760.3 656.2 761.1 657.2C762.0 658.2 762.9 665.1 763.7 665.5C764.4 665.9 764.9 660.6 765.7 659.5C766.4 658.3 767.5 658.8 767.9 658.7" stroke="#2a2aff" stroke-width="1.05" stroke-linejoin="round"/>
<rect x="216.00" y="600.30" width="553.00" height="126.70" stroke="#7f7f7f" stroke-width="2"/>
</svg>
<span class="tk" style="left:196.85px;top:732.20px;width:40px;text-align:center">0</span>
<span class="tk" style="left:250.83px;top:732.20px;width:40px;text-align:center">100</span>
<span class="tk" style="left:304.81px;top:732.20px;width:40px;text-align:center">200</span>
<span class="tk" style="left:358.79px;top:732.20px;width:40px;text-align:center">300</span>
<span class="tk" style="left:412.77px;top:732.20px;width:40px;text-align:center">400</span>
<span class="tk" style="left:466.75px;top:732.20px;width:40px;text-align:center">500</span>
<span class="tk" style="left:520.73px;top:732.20px;width:40px;text-align:center">600</span>
<span class="tk" style="left:574.71px;top:732.20px;width:40px;text-align:center">700</span>
<span class="tk" style="left:628.69px;top:732.20px;width:40px;text-align:center">800</span>
<span class="tk" style="left:682.67px;top:732.20px;width:40px;text-align:center">900</span>
<span class="tk" style="left:736.65px;top:732.20px;width:40px;text-align:center">1000</span>
<span class="tk" style="left:172.20px;top:596.20px;width:40px;text-align:right">9500</span>
<span class="tk" style="left:172.20px;top:627.60px;width:40px;text-align:right">9000</span>
<span class="tk" style="left:172.20px;top:659.00px;width:40px;text-align:right">8500</span>
<span class="tk" style="left:172.20px;top:690.40px;width:40px;text-align:right">8000</span>
<span class="tk" style="left:172.20px;top:721.80px;width:40px;text-align:right">7500</span>
<div class="lb" style="left:673.20px;top:607.90px"><i></i></div>
<span class="lg" style="left:690.40px;top:608.60px;color:#8c8c8c">aida06 1.7.W</span>
<div class="dm" style="left:760.60px;top:594.20px;background:#f00"></div>
<svg class="a" style="left:1128px;top:588px" width="640" height="150" viewBox="1128 588 640 150" fill="none">
<path d="M1223.50 600.30V727.00M1277.50 600.30V727.00M1331.50 600.30V727.00M1385.50 600.30V727.00M1439.50 600.30V727.00M1493.50 600.30V727.00M1547.50 600.30V727.00M1601.50 600.30V727.00M1655.50 600.30V727.00M1709.50 600.30V727.00M1168.00 694.50H1721.00M1168.00 663.50H1721.00M1168.00 632.50H1721.00" stroke="#c2c2c2" stroke-width="1"/>
<path d="M1168.8 625.5C1169.0 624.5 1169.7 622.2 1170.3 619.5C1170.9 616.7 1171.8 608.5 1172.4 608.9C1173.0 609.3 1173.3 621.3 1173.9 621.7C1174.5 622.1 1175.1 611.0 1175.9 611.1C1176.6 611.3 1177.7 622.1 1178.4 622.5C1179.2 622.9 1179.7 614.0 1180.4 613.4C1181.1 612.8 1182.0 617.9 1182.7 618.7C1183.3 619.5 1183.9 617.0 1184.5 617.9C1185.0 618.9 1185.3 625.4 1186.0 624.4C1186.6 623.4 1187.6 611.5 1188.4 611.9C1189.2 612.3 1189.8 627.4 1190.5 627.0C1191.3 626.6 1192.1 610.9 1192.9 609.6C1193.8 608.4 1194.7 618.7 1195.5 619.5C1196.2 620.2 1196.8 615.0 1197.5 613.9C1198.1 612.7 1198.8 610.2 1199.6 612.7C1200.4 615.1 1201.5 627.3 1202.3 628.5C1203.1 629.8 1203.8 620.7 1204.6 620.2C1205.4 619.7 1206.2 626.9 1207.1 625.5C1208.0 624.1 1209.0 612.8 1209.8 611.9C1210.7 611.0 1211.4 620.7 1212.1 620.2C1212.8 619.7 1213.3 608.9 1214.1 608.9C1214.8 608.9 1215.8 618.8 1216.6 620.2C1217.4 621.6 1218.2 617.2 1218.9 617.5C1219.6 617.7 1220.1 622.1 1220.7 621.7C1221.3 621.3 1222.1 615.2 1222.7 614.9C1223.3 614.7 1223.6 620.6 1224.2 620.2C1224.8 619.8 1225.8 613.0 1226.5 612.4C1227.1 611.7 1227.8 614.1 1228.3 616.4C1228.7 618.8 1228.7 627.7 1229.2 626.6C1229.7 625.4 1230.6 613.7 1231.3 609.6C1232.0 605.6 1232.9 602.3 1233.6 602.4C1234.3 602.5 1234.9 606.7 1235.5 610.4C1236.2 614.1 1236.6 624.5 1237.3 624.7C1238.0 625.0 1238.9 611.0 1239.8 611.9C1240.6 612.8 1241.6 628.5 1242.3 630.0C1243.0 631.5 1243.1 620.3 1243.8 621.0C1244.5 621.6 1245.5 636.0 1246.4 633.8C1247.3 631.6 1248.4 608.1 1249.1 607.8C1249.8 607.6 1250.0 631.7 1250.6 632.3C1251.3 632.8 1252.2 611.4 1252.9 611.1C1253.6 610.8 1254.2 630.6 1254.9 630.5C1255.5 630.4 1256.3 609.1 1257.0 610.4C1257.6 611.6 1258.2 636.6 1258.9 638.0C1259.7 639.4 1260.7 620.0 1261.5 618.7C1262.3 617.4 1262.8 630.4 1263.5 630.0C1264.2 629.6 1265.0 619.1 1265.7 616.4C1266.4 613.7 1266.8 610.8 1267.5 613.9C1268.2 616.9 1269.1 635.0 1270.0 634.6C1270.8 634.1 1271.6 610.2 1272.5 611.1C1273.5 612.1 1274.7 639.3 1275.5 640.1C1276.4 641.0 1276.9 617.2 1277.5 616.4C1278.1 615.6 1278.6 636.6 1279.3 635.3C1280.1 634.0 1281.3 608.4 1282.0 608.4C1282.8 608.4 1283.0 633.7 1283.9 635.3C1284.7 637.0 1286.1 619.7 1286.9 618.4C1287.6 617.1 1287.8 627.1 1288.4 627.8C1288.9 628.4 1289.4 621.6 1290.2 622.5C1291.0 623.4 1292.0 632.7 1292.9 633.0C1293.8 633.4 1294.6 622.5 1295.5 624.4C1296.4 626.3 1297.2 646.3 1298.2 644.4C1299.2 642.4 1300.3 613.6 1301.2 612.7C1302.2 611.7 1303.0 636.5 1303.8 638.6C1304.5 640.8 1305.2 628.0 1305.8 625.5C1306.3 623.0 1306.5 621.5 1307.3 623.5C1308.0 625.5 1309.4 636.2 1310.3 637.6C1311.2 638.9 1311.8 630.7 1312.6 631.5C1313.3 632.4 1314.0 643.6 1314.8 642.6C1315.6 641.6 1316.5 629.8 1317.4 625.5C1318.3 621.2 1319.2 614.9 1320.1 616.9C1321.0 618.8 1322.0 636.8 1322.8 637.1C1323.7 637.5 1324.4 620.4 1325.1 619.0C1325.8 617.6 1326.3 627.1 1326.9 628.5C1327.5 630.0 1328.2 626.6 1328.9 627.8C1329.6 628.9 1330.2 636.0 1331.1 635.3C1332.1 634.6 1333.5 623.8 1334.5 623.5C1335.4 623.3 1336.1 631.7 1336.7 633.8C1337.3 635.9 1337.7 636.8 1338.2 636.1C1338.8 635.4 1339.4 628.3 1340.0 629.6C1340.7 630.8 1341.2 644.2 1342.0 643.6C1342.8 643.1 1343.6 628.0 1344.6 626.2C1345.6 624.5 1347.2 632.8 1348.0 633.0C1348.9 633.2 1349.1 627.8 1349.6 627.5C1350.1 627.1 1350.6 631.9 1351.1 631.1C1351.6 630.3 1351.9 622.4 1352.6 622.5C1353.2 622.5 1354.1 631.4 1354.8 631.5C1355.6 631.7 1356.2 622.9 1357.1 623.2C1358.0 623.6 1359.2 633.6 1360.1 633.8C1361.1 634.0 1362.0 623.7 1362.7 624.4C1363.4 625.2 1363.6 636.5 1364.2 638.3C1364.8 640.1 1365.4 638.0 1366.2 635.3C1366.9 632.7 1368.0 625.2 1368.7 622.5C1369.5 619.7 1370.0 616.4 1370.7 618.7C1371.4 621.0 1371.9 634.9 1372.7 636.1C1373.4 637.3 1374.6 626.1 1375.2 625.9C1375.8 625.8 1375.8 636.5 1376.3 635.0C1376.8 633.5 1377.6 616.0 1378.3 616.9C1378.9 617.8 1379.4 639.8 1380.2 640.6C1381.0 641.4 1382.6 623.9 1383.2 621.7C1383.9 619.6 1383.7 628.7 1384.3 627.8C1384.9 626.8 1385.8 616.7 1386.6 616.0C1387.3 615.3 1388.1 622.1 1388.8 623.5C1389.6 625.0 1390.3 624.5 1391.1 624.7C1391.9 625.0 1392.9 622.7 1393.8 625.0C1394.8 627.4 1395.9 638.2 1396.8 639.1C1397.8 640.0 1398.7 632.2 1399.4 630.5C1400.1 628.8 1400.3 631.9 1400.9 629.0C1401.5 626.0 1402.5 612.5 1403.2 613.0C1403.9 613.5 1404.3 630.3 1405.0 632.0C1405.7 633.7 1406.5 622.4 1407.4 622.9C1408.3 623.5 1409.6 632.6 1410.4 635.3C1411.2 638.0 1411.6 639.1 1412.2 639.1C1412.9 639.1 1413.8 635.8 1414.5 635.3C1415.2 634.8 1415.9 637.0 1416.5 636.1C1417.0 635.1 1417.5 629.1 1418.0 629.6C1418.5 630.1 1418.7 640.3 1419.5 639.1C1420.3 637.9 1422.0 624.3 1422.8 622.5C1423.7 620.6 1424.0 627.4 1424.6 628.1C1425.3 628.7 1425.9 625.2 1426.6 626.2C1427.2 627.3 1427.9 633.1 1428.6 634.6C1429.2 636.0 1429.7 632.9 1430.4 635.0C1431.0 637.2 1431.8 649.0 1432.6 647.4C1433.4 645.8 1434.3 626.4 1435.2 625.5C1436.1 624.6 1437.1 642.4 1437.9 642.1C1438.7 641.9 1439.4 628.3 1440.2 624.0C1441.0 619.6 1442.2 614.3 1442.9 616.0C1443.6 617.6 1443.7 631.7 1444.3 633.8C1444.8 635.9 1445.6 627.8 1446.2 628.5C1446.8 629.3 1447.2 636.4 1447.7 638.3C1448.2 640.2 1448.8 640.7 1449.2 639.8C1449.7 639.0 1450.0 633.0 1450.6 633.0C1451.2 633.0 1452.1 640.4 1452.8 639.8C1453.6 639.3 1454.4 630.4 1455.1 629.6C1455.8 628.8 1456.3 635.4 1456.9 635.0C1457.5 634.6 1458.2 626.5 1458.9 627.0C1459.6 627.6 1460.3 638.9 1461.1 638.3C1462.0 637.8 1463.1 622.4 1463.9 623.5C1464.7 624.7 1465.3 644.9 1466.0 645.1C1466.7 645.4 1467.3 627.4 1467.9 625.0C1468.6 622.7 1469.4 627.6 1469.9 630.8C1470.4 634.0 1470.5 643.6 1471.0 644.1C1471.5 644.6 1472.3 633.9 1472.9 633.8C1473.5 633.7 1473.8 644.3 1474.4 643.6C1475.0 642.9 1475.9 631.0 1476.6 629.6C1477.2 628.2 1477.8 635.3 1478.5 635.3C1479.2 635.3 1480.1 631.1 1480.8 629.6C1481.5 628.0 1481.9 626.4 1482.6 625.9C1483.3 625.5 1484.3 625.7 1485.0 627.0C1485.8 628.3 1486.4 631.5 1487.1 633.8C1487.8 636.1 1488.3 641.5 1489.1 640.6C1489.9 639.7 1491.3 627.3 1492.1 628.5C1492.9 629.8 1493.3 648.5 1494.1 648.2C1494.8 647.8 1495.9 627.6 1496.6 626.6C1497.4 625.5 1497.9 641.6 1498.6 642.1C1499.3 642.6 1500.1 630.7 1500.7 629.6C1501.3 628.5 1501.8 635.8 1502.2 635.6C1502.7 635.4 1502.9 625.4 1503.4 628.5C1503.9 631.6 1504.4 655.1 1505.2 654.2C1506.1 653.3 1507.4 622.5 1508.3 622.9C1509.2 623.4 1509.9 655.4 1510.7 656.8C1511.4 658.1 1512.2 633.0 1512.8 631.1C1513.4 629.1 1513.7 646.0 1514.3 645.1C1514.9 644.3 1515.9 626.2 1516.6 625.9C1517.3 625.7 1517.9 642.6 1518.5 643.6C1519.2 644.7 1519.7 631.7 1520.4 632.3C1521.0 632.9 1521.6 648.9 1522.3 647.1C1523.0 645.3 1523.9 621.0 1524.6 621.7C1525.3 622.4 1525.7 649.4 1526.4 651.2C1527.1 652.9 1528.1 631.5 1528.8 632.3C1529.6 633.1 1530.1 655.3 1530.9 656.2C1531.8 657.0 1533.0 642.6 1533.9 637.6C1534.9 632.6 1535.8 625.9 1536.7 626.2C1537.5 626.6 1538.2 638.1 1538.9 639.8C1539.7 641.6 1540.3 635.7 1541.2 636.8C1542.1 638.0 1543.4 645.4 1544.2 646.6C1545.0 647.9 1545.5 643.6 1546.0 644.4C1546.6 645.1 1546.9 652.3 1547.5 651.2C1548.2 650.0 1549.2 638.6 1550.0 637.6C1550.7 636.6 1551.3 647.1 1552.1 645.1C1552.9 643.1 1553.8 625.2 1554.8 625.5C1555.7 625.8 1556.8 643.1 1557.8 647.1C1558.8 651.0 1560.0 647.4 1560.8 649.2C1561.7 651.0 1562.4 655.1 1563.1 658.0C1563.8 660.8 1564.2 668.9 1565.1 666.3C1565.9 663.6 1567.5 645.1 1568.4 642.1C1569.2 639.1 1569.4 648.6 1570.2 648.2C1571.0 647.7 1572.4 639.9 1573.2 639.5C1574.0 639.2 1574.5 645.9 1575.2 645.9C1575.8 645.9 1576.4 638.4 1577.1 639.5C1577.9 640.7 1578.9 651.6 1579.7 652.7C1580.6 653.8 1581.4 647.1 1582.3 646.2C1583.2 645.3 1584.2 646.3 1585.0 647.1C1585.8 647.9 1586.2 651.4 1586.8 651.2C1587.4 650.9 1588.1 646.5 1588.8 645.6C1589.4 644.7 1590.1 647.7 1590.7 645.9C1591.4 644.0 1591.9 634.4 1592.6 634.6C1593.2 634.7 1594.1 645.4 1594.8 646.6C1595.6 647.9 1596.3 640.7 1597.1 642.1C1597.9 643.5 1598.8 654.7 1599.8 654.9C1600.8 655.2 1601.8 644.0 1602.8 643.6C1603.8 643.2 1604.8 652.8 1605.8 652.7C1606.9 652.6 1608.1 644.6 1608.9 642.9C1609.7 641.1 1609.9 643.8 1610.7 642.1C1611.4 640.4 1612.6 631.8 1613.4 632.6C1614.2 633.4 1614.5 645.3 1615.2 647.1C1615.9 648.9 1616.8 641.9 1617.5 643.6C1618.2 645.3 1618.7 658.6 1619.4 657.2C1620.2 655.8 1621.2 635.6 1622.0 635.0C1622.8 634.4 1623.3 652.5 1624.0 653.4C1624.6 654.4 1625.5 641.6 1626.1 640.6C1626.7 639.6 1627.0 648.5 1627.6 647.4C1628.2 646.3 1628.8 633.2 1629.6 633.8C1630.3 634.4 1631.2 649.3 1632.1 650.7C1633.0 652.1 1633.9 645.1 1634.8 642.1C1635.8 639.1 1636.8 630.2 1637.6 632.6C1638.4 635.0 1638.9 656.1 1639.7 656.5C1640.5 656.9 1641.7 637.4 1642.4 635.0C1643.1 632.6 1643.4 642.3 1643.9 642.1C1644.5 642.0 1645.0 634.1 1645.7 634.1C1646.4 634.1 1647.4 643.0 1648.1 642.1C1648.9 641.2 1649.6 629.3 1650.2 628.5C1650.9 627.8 1651.6 636.5 1652.2 637.6C1652.8 638.7 1653.0 633.4 1653.7 635.0C1654.4 636.6 1655.5 646.5 1656.3 647.1C1657.1 647.7 1658.0 638.0 1658.7 638.6C1659.5 639.2 1660.1 651.0 1660.8 650.7C1661.6 650.5 1662.4 636.3 1663.2 637.1C1664.1 638.0 1665.1 656.9 1665.8 655.7C1666.6 654.5 1667.1 635.1 1667.8 630.0C1668.5 624.9 1669.1 620.3 1669.9 625.0C1670.7 629.7 1671.6 656.0 1672.6 658.3C1673.6 660.5 1674.7 639.2 1675.6 638.6C1676.5 638.0 1677.1 654.1 1677.9 654.6C1678.6 655.2 1679.5 644.0 1680.2 642.1C1680.8 640.2 1681.0 643.8 1681.7 643.2C1682.3 642.5 1683.1 637.3 1683.9 638.0C1684.7 638.8 1685.7 647.4 1686.5 647.7C1687.3 648.0 1687.9 639.8 1688.5 639.8C1689.0 639.9 1689.4 648.8 1690.0 648.2C1690.6 647.5 1691.2 635.7 1691.9 636.1C1692.7 636.4 1693.7 649.7 1694.5 650.1C1695.3 650.5 1695.9 638.2 1696.8 638.6C1697.7 639.1 1698.8 653.2 1699.8 652.7C1700.8 652.1 1701.9 635.4 1702.8 635.3C1703.8 635.2 1704.5 652.1 1705.5 652.2C1706.6 652.4 1708.1 637.6 1709.2 636.1C1710.2 634.6 1711.1 640.9 1711.9 643.2C1712.6 645.4 1713.1 649.2 1713.7 649.7C1714.3 650.1 1715.1 645.8 1715.7 645.9C1716.2 646.0 1716.4 649.4 1717.2 650.1C1717.9 650.8 1719.7 650.1 1720.2 650.1" stroke="#2a2aff" stroke-width="1.05" stroke-linejoin="round"/>
<rect x="1168.00" y="600.30" width="553.00" height="126.70" stroke="#000" stroke-width="2"/>
</svg>
<span class="tk" style="left:1148.85px;top:732.20px;width:40px;text-align:center">0</span>
<span class="tk" style="left:1202.83px;top:732.20px;width:40px;text-align:center">100</span>
<span class="tk" style="left:1256.81px;top:732.20px;width:40px;text-align:center">200</span>
<span class="tk" style="left:1310.79px;top:732.20px;width:40px;text-align:center">300</span>
<span class="tk" style="left:1364.77px;top:732.20px;width:40px;text-align:center">400</span>
<span class="tk" style="left:1418.75px;top:732.20px;width:40px;text-align:center">500</span>
<span class="tk" style="left:1472.73px;top:732.20px;width:40px;text-align:center">600</span>
<span class="tk" style="left:1526.71px;top:732.20px;width:40px;text-align:center">700</span>
<span class="tk" style="left:1580.69px;top:732.20px;width:40px;text-align:center">800</span>
<span class="tk" style="left:1634.67px;top:732.20px;width:40px;text-align:center">900</span>
<span class="tk" style="left:1688.65px;top:732.20px;width:40px;text-align:center">1000</span>
<span class="tk" style="left:1124.20px;top:596.20px;width:40px;text-align:right">9500</span>
<span class="tk" style="left:1124.20px;top:627.60px;width:40px;text-align:right">9000</span>
<span class="tk" style="left:1124.20px;top:659.00px;width:40px;text-align:right">8500</span>
<span class="tk" style="left:1124.20px;top:690.40px;width:40px;text-align:right">8000</span>
<span class="tk" style="left:1124.20px;top:721.80px;width:40px;text-align:right">7500</span>
<div class="lb" style="left:1625.20px;top:607.90px"><i></i></div>
<span class="lg" style="left:1642.40px;top:608.60px;color:#000">aida08 1.8.W</span>
<div class="dm" style="left:1712.60px;top:594.20px;background:#0f0"></div>
<div class="b" style="left:6.5px;top:922px;width:99.1px;height:18.6px"><span style="transform:scaleX(0.9645)"><b id="t27" style="font-weight:normal">Empty Log Window</b></span></div>
<div class="b" style="left:110.4px;top:922px;width:131.1px;height:18.6px"><span style="transform:scaleX(0.9473)"><b id="t28" style="font-weight:normal">Send Log Window to ELog</b></span></div>
<div class="b" style="left:246.4px;top:922px;width:39.4px;height:18.6px"><span style="transform:scaleX(0.9094)"><b id="t29" style="font-weight:normal">Reload</b></span></div>
<div class="b" style="left:290.3px;top:922px;width:34.2px;height:18.6px"><span style="transform:scaleX(0.9217)"><b id="t30" style="font-weight:normal">Reset</b></span></div>
<div class="b" style="left:329px;top:922px;width:79.5px;height:18.6px"><span style="transform:scaleX(0.9494)"><b id="t31" style="font-weight:normal">Show Variables</b></span></div>
<div class="b" style="left:413.3px;top:922px;width:95.6px;height:18.6px"><span style="transform:scaleX(0.9648)"><b id="t32" style="font-weight:normal">Show Log Window</b></span></div>
<div class="b" style="left:513.4px;top:922px;width:78.1px;height:18.6px"><span style="transform:scaleX(0.9206)"><b id="t33" style="font-weight:normal">Enable Logging</b></span></div>
<div class="b" style="left:1806px;top:922px;width:108px;height:18.6px"><span style="transform:scaleX(0.9763)"><b id="t34" style="font-weight:normal">How to use this page</b></span></div>
<span class="a " style="left:1666px;top:956.10px;line-height:1;font-size:12.8px;">Last Updated: June 12, 2024 14:54:40</span>
<span class="a " style="left:8px;top:988.19px;line-height:1;font-size:8px;color:#333;">.</span>
<span class="a " style="left:8px;top:998.10px;line-height:1;font-size:12.8px;color:#0000ee;"><u>Home</u></span>
</div>
</body></html>
